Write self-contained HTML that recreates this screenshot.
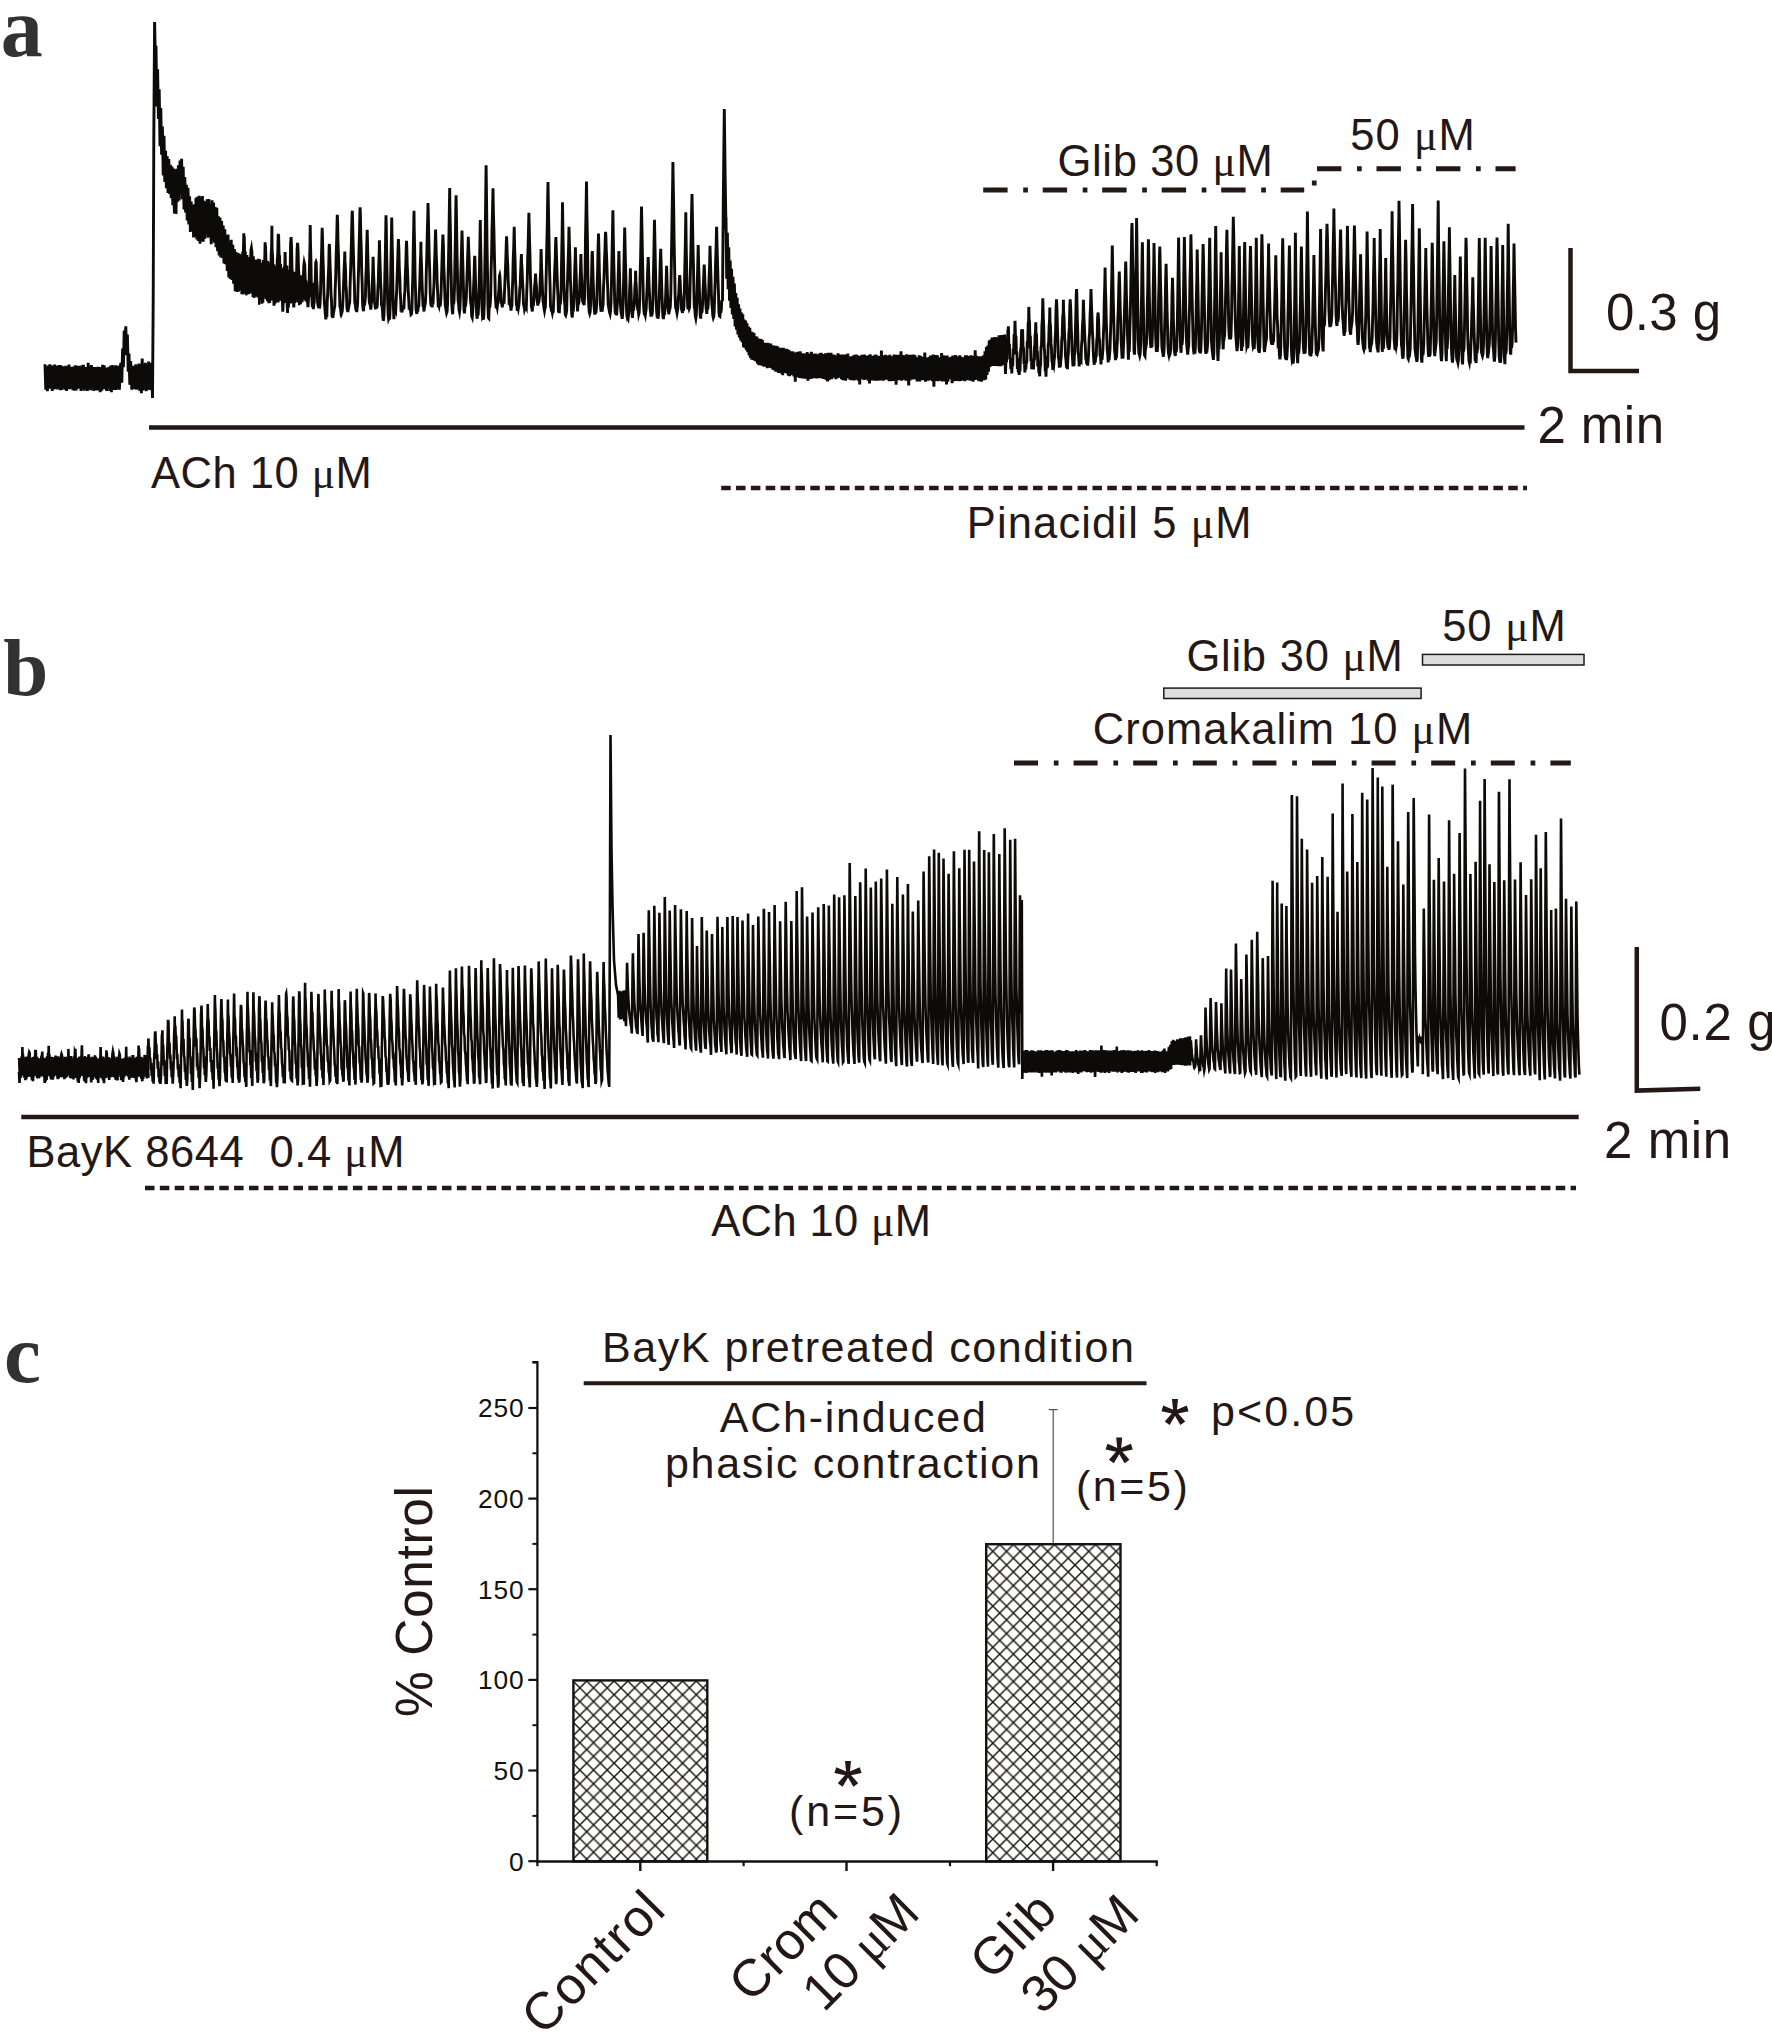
<!DOCTYPE html>
<html><head><meta charset="utf-8"><title>figure</title>
<style>
html,body{margin:0;padding:0;background:#fff;}
svg{display:block;}
text{font-family:"Liberation Sans",sans-serif;fill:#231815;}
.mu{font-family:"Liberation Serif",serif;}
.pl{font-family:"Liberation Serif",serif;font-weight:bold;fill:#323232;}
</style></head>
<body>
<svg width="1772" height="2039" viewBox="0 0 1772 2039">
<rect x="0" y="0" width="1772" height="2039" fill="#ffffff"/>
<polyline fill="none" stroke="#0d0b0a" stroke-width="2.9" stroke-linejoin="miter" stroke-miterlimit="6" points="45.0,364.2 45.8,389.7 46.6,367.0 47.4,391.1 48.2,365.5 49.0,388.6 49.8,364.3 50.6,388.3 51.4,365.4 52.2,390.9 53.0,367.0 53.8,389.4 54.6,364.5 55.4,388.7 56.2,365.6 57.0,389.5 57.8,365.6 58.6,388.5 59.4,365.1 60.2,390.2 61.0,365.3 61.8,389.9 62.6,366.4 63.4,388.3 64.2,366.5 65.0,389.7 65.8,365.8 66.6,391.0 67.4,366.4 68.2,388.9 69.0,364.5 69.8,389.2 70.6,367.2 71.4,388.5 72.2,366.9 73.0,390.1 73.8,366.6 74.6,390.6 75.4,365.4 76.2,390.5 77.0,365.8 77.8,388.6 78.6,365.8 79.4,388.3 80.2,366.9 81.0,390.9 81.8,365.3 82.6,388.6 83.4,364.9 84.2,390.8 85.0,367.0 85.8,389.2 86.6,367.0 87.4,391.0 88.2,362.7 89.0,389.2 89.8,367.4 90.6,390.3 91.4,365.0 92.2,389.3 93.0,367.0 93.8,390.9 94.6,367.0 95.4,390.2 96.2,367.3 97.0,390.4 97.8,366.9 98.6,390.5 99.4,367.1 100.2,392.2 101.0,367.1 101.8,390.8 102.6,364.8 103.4,388.9 104.2,365.2 105.0,389.2 105.8,367.8 106.6,391.0 107.4,367.6 108.2,388.7 109.0,366.7 109.8,390.9 110.6,365.7 111.4,392.3 112.2,365.1 113.0,389.7 113.8,366.5 114.6,390.0 115.4,365.4 116.2,389.9 117.0,365.6 117.8,388.5 118.6,366.1 119.4,389.6 120.2,366.5 121.0,362.8 121.8,382.8 122.6,348.5 123.4,367.1 124.2,330.6 125.0,343.6 125.8,326.3 126.6,355.1 127.4,334.6 128.2,371.6 129.0,353.5 129.8,384.6 130.6,361.2 131.0,366.7 131.8,389.7 132.6,365.9 133.4,389.3 134.2,366.1 135.0,388.9 135.8,364.4 136.6,389.6 137.4,365.9 138.2,389.0 139.0,363.5 139.8,390.9 140.6,364.7 141.4,393.2 142.2,358.6 143.0,390.5 143.8,364.6 144.6,389.3 145.4,362.8 146.2,391.3 147.0,365.1 147.8,389.9 148.6,361.6 149.4,389.8 150.2,362.7 151.0,390.2 151.8,364.4 152.5,398.0 153.2,300.0 153.8,140.0 154.6,22.0 155.4,60.0 156.0,90.0 156.0,45.8 156.8,106.5 157.6,69.3 158.4,119.1 159.2,89.3 160.0,146.3 160.8,108.1 161.6,154.8 162.4,126.5 163.2,175.5 164.0,135.8 164.8,181.9 165.6,150.9 166.4,188.2 167.2,156.3 168.0,192.9 168.8,159.1 169.6,194.0 170.4,164.7 171.2,198.1 172.0,166.5 172.8,205.3 173.6,168.5 174.4,213.5 175.2,169.8 176.0,213.9 176.8,168.8 177.6,201.9 178.4,165.3 179.2,200.5 180.0,160.5 180.8,194.0 181.6,158.7 182.4,199.3 183.2,166.8 184.0,209.4 184.8,177.0 185.6,212.5 186.4,184.8 187.2,220.4 188.0,187.9 188.8,224.5 189.6,196.2 190.4,231.9 191.2,201.5 192.0,231.4 192.8,205.3 193.6,237.4 194.4,204.4 195.2,236.8 196.0,197.7 196.8,239.4 197.6,196.9 198.4,241.0 199.2,195.8 200.0,243.7 200.8,197.4 201.6,240.9 202.4,196.1 203.2,241.7 204.0,200.9 204.8,238.9 205.6,202.4 206.4,234.2 207.2,199.3 208.0,237.7 208.8,199.0 209.6,236.3 210.4,204.2 211.2,244.2 212.0,200.4 212.8,240.6 213.6,202.6 214.4,242.7 215.2,207.1 216.0,247.2 216.8,207.8 217.6,251.1 218.4,216.3 219.2,255.5 220.0,217.5 220.8,257.4 221.6,221.1 222.4,258.0 223.2,225.5 224.0,263.5 224.8,229.2 225.6,264.2 226.4,235.8 227.2,270.9 228.0,234.5 228.8,277.4 229.6,242.0 230.4,278.9 231.2,239.7 232.0,279.9 232.8,244.8 233.6,283.8 234.4,249.0 235.2,291.3 236.0,252.8 236.8,287.9 237.6,252.7 238.4,291.8 239.2,253.5 240.0,267.3 240.5,287.3 240.9,272.5 241.4,285.2 241.9,260.6 242.4,276.9 242.8,251.4 243.3,257.4 243.8,233.3 244.0,243.2 244.3,236.2 244.7,257.8 245.2,251.6 245.7,271.4 246.2,263.4 246.6,282.0 247.1,269.6 247.6,284.7 248.1,284.9 248.5,294.2 249.0,285.6 249.5,292.7 250.0,267.8 250.4,276.4 250.9,250.3 251.4,248.0 251.9,252.1 252.3,271.2 252.8,265.7 253.3,290.2 253.8,278.9 254.3,293.9 254.7,279.6 255.2,288.3 255.7,276.5 256.1,291.7 256.6,276.2 257.1,279.7 257.6,268.9 258.0,277.9 258.5,270.0 259.0,282.5 259.5,273.9 259.9,290.9 260.4,278.2 260.9,287.8 261.4,291.1 261.8,303.6 262.3,288.0 262.8,302.7 263.2,279.8 263.7,289.9 264.1,265.5 264.6,268.4 265.1,242.2 265.3,251.8 265.5,245.4 266.0,263.6 266.5,263.7 266.9,288.8 267.4,283.8 267.9,299.0 268.3,287.1 268.8,303.2 269.3,292.3 269.7,302.7 270.2,284.7 270.7,284.6 271.2,253.9 271.6,248.3 271.9,225.7 272.1,249.9 272.6,256.2 273.1,283.8 273.6,289.7 274.0,305.7 274.5,288.6 275.0,296.9 275.4,287.7 275.9,296.9 276.4,276.7 276.8,279.3 277.3,259.5 277.7,255.5 278.2,233.9 278.4,241.0 278.6,234.8 279.1,256.6 279.6,256.6 280.0,279.4 280.5,278.9 280.9,297.8 281.4,291.2 281.9,298.5 282.3,299.5 282.8,311.6 283.2,302.5 283.7,302.2 284.2,284.0 284.6,277.4 285.1,252.1 285.6,275.6 286.0,281.8 286.5,299.2 287.0,300.5 287.5,313.0 287.9,298.6 288.4,307.6 288.8,299.1 289.3,297.5 289.7,276.3 290.2,270.0 290.6,243.3 291.1,237.0 291.5,246.2 292.0,268.8 292.4,276.8 292.9,296.3 293.4,299.6 293.8,307.5 294.3,295.4 294.7,302.9 295.2,294.9 295.7,293.7 296.2,277.1 296.6,272.2 297.1,249.6 297.6,242.8 298.1,250.9 298.5,268.7 299.0,274.8 299.5,294.1 300.0,298.8 300.5,304.1 300.9,295.2 301.4,301.8 301.9,295.7 302.3,295.8 302.8,282.4 303.3,278.7 303.8,265.7 304.2,262.5 304.7,264.5 305.2,279.4 305.7,281.1 306.1,295.8 306.6,296.5 307.1,301.6 307.6,302.4 308.0,307.1 308.5,298.4 309.0,290.8 309.5,263.7 310.0,245.2 310.2,225.1 310.5,243.6 311.0,264.0 311.4,288.8 311.9,298.4 312.4,307.2 312.9,304.7 313.4,309.1 313.8,304.3 314.3,301.5 314.8,285.0 315.3,279.5 315.7,262.7 316.0,261.9 316.2,262.5 316.7,279.8 317.2,286.9 317.6,302.5 318.1,305.7 318.6,308.0 319.1,303.1 319.5,308.5 320.0,304.6 320.5,292.7 321.0,269.2 321.5,256.0 322.0,233.8 322.2,227.8 322.4,233.7 322.9,255.8 323.4,269.8 323.9,292.3 324.4,302.6 324.9,308.7 325.3,313.6 325.8,319.4 326.3,314.9 326.8,317.2 327.2,302.7 327.7,293.0 328.2,277.1 328.7,267.7 329.1,247.2 329.4,244.0 329.6,247.5 330.1,266.1 330.5,275.3 331.0,294.7 331.5,300.7 332.0,315.1 332.4,315.0 332.9,317.9 333.4,308.6 333.9,310.7 334.3,308.2 334.8,306.3 335.2,289.1 335.7,276.5 336.2,255.0 336.6,242.2 337.1,221.0 337.3,214.7 337.6,220.7 338.0,241.7 338.5,255.5 339.0,277.0 339.4,289.1 339.9,306.8 340.4,307.7 340.8,311.3 341.3,309.6 341.8,312.5 342.2,311.2 342.7,305.3 343.2,293.6 343.6,283.2 344.1,269.6 344.6,259.2 344.8,251.5 345.0,260.9 345.5,268.5 345.9,284.9 346.4,291.3 346.9,307.4 347.3,309.7 347.8,311.9 348.3,306.0 348.7,307.1 349.2,304.3 349.7,302.7 350.1,285.1 350.6,270.8 351.1,252.5 351.5,238.9 352.0,215.8 352.3,210.7 352.5,216.8 353.0,239.1 353.4,252.9 353.9,271.0 354.4,285.1 354.8,302.5 355.3,304.7 355.8,308.6 356.2,308.4 356.7,312.0 357.2,307.6 357.6,303.4 358.1,285.2 358.5,271.5 359.0,250.1 359.4,235.2 359.9,212.6 360.1,207.3 360.4,214.7 360.8,236.1 361.3,250.3 361.7,271.9 362.2,283.9 362.6,304.0 363.1,309.0 363.6,311.1 364.0,302.2 364.5,305.7 364.9,302.4 365.4,297.4 365.8,278.9 366.3,266.4 366.7,246.3 367.2,229.8 367.6,246.6 368.1,266.0 368.5,279.4 369.0,295.9 369.4,302.7 369.9,304.2 370.3,305.8 370.8,309.5 371.3,303.8 371.7,300.9 372.2,285.4 372.7,274.1 373.1,256.8 373.6,274.6 374.1,284.6 374.5,301.9 375.0,305.1 375.5,309.2 375.9,305.4 376.4,307.6 376.9,307.3 377.3,304.8 377.8,290.7 378.3,281.4 378.7,266.5 379.2,252.6 379.4,240.3 379.7,252.1 380.1,264.1 380.6,282.1 381.1,290.6 381.5,304.9 382.0,305.9 382.5,310.6 382.9,317.7 383.4,320.8 383.9,316.2 384.4,302.9 384.8,278.1 385.3,256.7 385.8,226.6 386.0,215.4 386.3,227.2 386.7,257.0 387.2,279.2 387.7,302.4 388.2,315.6 388.6,319.0 389.1,317.7 389.6,319.5 390.1,308.7 390.5,287.8 391.0,257.7 391.5,233.5 391.7,217.6 392.0,234.9 392.5,257.7 392.9,288.1 393.4,307.4 393.9,319.2 394.4,310.2 394.8,313.2 395.3,309.7 395.7,310.7 396.2,300.4 396.6,292.7 397.1,278.0 397.5,267.1 398.0,250.1 398.4,239.1 398.9,249.9 399.3,268.9 399.8,278.1 400.2,291.9 400.7,300.1 401.1,311.7 401.6,307.9 402.0,312.5 402.5,305.2 403.0,310.0 403.4,306.3 403.9,309.0 404.4,296.4 404.9,291.2 405.3,276.0 405.8,264.0 406.3,245.9 406.5,240.7 406.8,247.5 407.2,263.6 407.7,275.3 408.2,290.5 408.7,298.6 409.1,307.5 409.6,307.2 410.1,309.3 410.6,311.1 411.0,314.5 411.5,314.0 411.9,309.8 412.4,290.5 412.8,275.9 413.3,248.5 413.7,227.4 414.0,210.7 414.2,227.7 414.7,251.1 415.1,276.5 415.6,292.6 416.0,309.2 416.5,312.4 416.9,313.9 417.4,306.6 417.8,311.5 418.3,306.1 418.8,306.0 419.3,292.8 419.7,284.2 420.2,266.5 420.7,253.6 420.9,241.8 421.1,254.2 421.6,267.7 422.1,284.5 422.5,293.7 423.0,305.7 423.5,306.4 424.0,311.5 424.4,302.8 424.9,305.2 425.4,302.5 425.9,293.2 426.3,272.0 426.8,254.8 427.3,232.5 427.8,215.1 428.0,203.1 428.3,214.4 428.7,233.4 429.2,256.1 429.7,270.6 430.2,292.3 430.7,302.8 431.1,306.1 431.6,302.7 432.1,307.3 432.6,302.2 433.0,304.4 433.5,293.0 434.0,283.7 434.4,267.4 434.9,253.9 435.4,234.8 435.6,229.6 435.8,236.9 436.3,255.5 436.8,267.2 437.2,283.1 437.7,293.1 438.2,304.5 438.6,304.1 439.1,306.0 439.6,302.9 440.1,306.3 440.5,303.5 441.0,295.2 441.5,277.6 441.9,264.7 442.4,248.0 442.9,234.6 443.4,246.4 443.8,266.6 444.3,277.5 444.8,293.9 445.2,304.7 445.7,307.7 446.2,310.7 446.6,313.1 447.1,311.7 447.6,302.7 448.0,280.4 448.5,259.9 449.0,231.9 449.4,207.0 449.7,187.9 449.9,206.5 450.4,230.0 450.8,259.7 451.3,280.3 451.7,302.5 452.2,310.1 452.7,314.2 453.1,301.9 453.6,304.7 454.0,300.9 454.5,287.6 454.9,262.6 455.4,237.6 455.8,208.5 456.1,195.3 456.3,207.2 456.8,239.5 457.2,262.2 457.7,287.9 458.1,300.5 458.6,303.9 459.0,309.9 459.5,312.2 459.9,309.0 460.4,296.0 460.8,274.1 461.3,257.9 461.8,238.2 462.0,230.6 462.2,238.3 462.7,259.7 463.1,273.8 463.6,294.1 464.0,310.2 464.5,313.3 465.0,304.2 465.4,306.6 465.9,302.6 466.3,297.2 466.8,282.5 467.2,271.4 467.7,255.8 468.1,244.6 468.3,236.9 468.6,245.6 469.0,256.1 469.5,272.2 469.9,281.7 470.4,298.6 470.8,303.4 471.3,306.2 471.7,316.2 472.2,317.5 472.6,313.2 473.1,305.6 473.5,288.5 474.0,277.5 474.5,260.4 474.7,255.8 474.9,259.2 475.4,277.7 475.8,287.9 476.3,304.6 476.7,315.4 477.2,318.7 477.6,313.5 478.1,315.3 478.6,306.5 479.1,289.5 479.6,261.5 480.0,237.2 480.3,220.1 480.5,237.8 481.0,261.5 481.5,289.3 482.0,307.5 482.5,316.7 482.9,315.9 483.4,319.7 483.8,315.6 484.3,303.0 484.7,274.4 485.2,243.3 485.6,203.4 486.1,165.3 486.6,203.4 487.0,242.7 487.5,273.0 487.9,304.2 488.4,317.8 488.8,318.3 489.3,303.0 489.7,307.7 490.2,304.2 490.7,294.9 491.1,271.1 491.6,254.8 492.0,229.8 492.5,211.9 493.0,188.3 493.4,212.4 493.9,230.0 494.4,254.5 494.8,271.5 495.3,296.2 495.8,303.5 496.2,308.3 496.7,305.0 497.2,307.3 497.6,304.1 498.1,302.8 498.6,293.0 499.0,288.0 499.5,275.9 499.7,275.2 499.9,276.5 500.4,287.1 500.9,293.4 501.3,302.3 501.8,304.1 502.3,307.4 502.7,302.4 503.2,302.8 503.6,301.7 504.1,301.9 504.6,289.9 505.0,280.5 505.5,267.8 505.9,256.1 506.4,239.9 506.6,236.4 506.8,241.3 507.3,256.8 507.8,266.3 508.2,280.5 508.7,289.7 509.1,301.6 509.6,300.9 510.0,302.8 510.5,305.7 511.0,310.6 511.4,307.1 511.9,306.1 512.3,290.8 512.8,277.7 513.2,259.3 513.7,248.0 514.2,226.8 514.6,247.2 515.1,260.7 515.5,279.6 516.0,289.9 516.4,304.6 516.9,306.0 517.3,310.9 517.8,306.2 518.3,308.5 518.8,305.5 519.2,301.7 519.7,290.4 520.2,284.4 520.7,270.2 521.1,260.5 521.4,254.1 521.6,262.8 522.1,270.0 522.6,283.2 523.0,289.2 523.5,303.9 524.0,306.1 524.5,309.6 525.0,308.0 525.4,310.7 525.9,306.7 526.3,307.6 526.8,290.6 527.3,278.1 527.7,258.0 528.2,243.0 528.7,220.5 528.9,212.8 529.1,221.0 529.6,242.2 530.0,256.7 530.5,279.3 531.0,292.1 531.4,307.0 531.9,307.9 532.3,311.5 532.8,302.6 533.3,306.2 533.7,302.2 534.2,296.5 534.6,286.0 535.1,282.0 535.5,273.5 536.0,282.8 536.4,285.8 536.9,296.5 537.3,301.3 537.8,305.6 538.3,300.5 538.7,303.2 539.2,299.2 539.7,295.3 540.2,280.1 540.7,269.4 541.1,249.0 541.6,267.9 542.1,279.0 542.6,293.4 543.0,300.9 543.5,303.7 544.0,308.2 544.5,310.9 544.9,308.5 545.4,307.2 545.9,286.7 546.3,270.9 546.8,245.6 547.3,223.8 547.7,195.8 548.0,182.1 548.2,195.2 548.7,223.0 549.1,245.1 549.6,271.0 550.1,286.8 550.5,306.4 551.0,307.5 551.4,310.5 551.9,310.6 552.4,313.0 552.8,311.0 553.3,311.1 553.8,296.6 554.2,286.6 554.7,269.5 555.2,260.2 555.6,243.0 555.9,237.1 556.1,242.5 556.6,259.5 557.0,272.0 557.5,286.7 558.0,296.7 558.4,310.9 558.9,310.9 559.3,313.1 559.8,301.6 560.3,304.7 560.7,299.9 561.2,285.7 561.6,260.4 562.1,235.1 562.5,202.2 563.0,235.8 563.5,260.6 563.9,286.6 564.4,300.3 564.8,304.1 565.3,314.7 565.7,315.4 566.2,313.5 566.7,310.3 567.1,291.1 567.6,278.8 568.1,262.1 568.6,247.1 569.0,226.8 569.5,247.3 570.0,261.2 570.4,279.1 570.9,291.0 571.4,308.1 571.8,314.9 572.3,317.5 572.8,309.1 573.3,311.8 573.7,303.8 574.2,289.5 574.7,270.9 575.2,258.8 575.4,247.3 575.7,259.7 576.1,271.5 576.6,290.0 577.1,303.7 577.6,311.4 578.1,301.3 578.5,304.5 579.0,301.3 579.5,295.5 579.9,282.0 580.4,272.6 580.9,254.0 581.3,271.6 581.8,280.8 582.3,296.8 582.7,301.7 583.2,302.8 583.7,301.9 584.1,305.1 584.6,296.9 585.1,271.1 585.5,237.8 586.0,212.5 586.5,181.5 586.9,212.5 587.4,238.6 587.8,270.2 588.3,296.6 588.8,305.7 589.2,311.9 589.7,313.6 590.2,311.7 590.6,304.0 591.1,287.7 591.6,275.9 592.0,255.5 592.3,251.0 592.5,256.3 593.0,275.1 593.4,287.7 593.9,304.1 594.4,310.1 594.8,314.7 595.3,309.1 595.8,313.3 596.2,310.5 596.7,303.4 597.1,287.8 597.6,271.8 598.0,252.0 598.5,233.6 599.0,252.4 599.4,273.6 599.9,285.8 600.3,303.5 600.8,309.2 601.2,311.7 601.7,307.4 602.2,311.5 602.6,306.9 603.1,305.1 603.5,287.9 604.0,277.5 604.5,261.2 604.9,251.3 605.4,234.3 605.6,231.8 605.9,236.6 606.3,250.4 606.8,261.6 607.3,278.6 607.7,288.0 608.2,304.6 608.7,307.3 609.1,310.1 609.6,312.3 610.1,314.0 610.5,311.2 611.0,302.1 611.5,281.5 611.9,262.0 612.4,236.5 612.9,210.2 613.3,236.0 613.8,263.3 614.3,281.3 614.7,302.2 615.2,312.2 615.6,314.3 616.1,310.7 616.6,315.4 617.0,309.3 617.5,300.7 618.0,284.1 618.4,270.1 618.9,251.1 619.4,271.0 619.8,284.7 620.3,302.1 620.8,309.4 621.2,313.2 621.7,315.7 622.2,318.9 622.6,315.4 623.1,303.4 623.6,281.3 624.0,262.0 624.5,237.1 624.7,227.5 624.9,236.2 625.4,261.0 625.9,278.9 626.3,302.2 626.8,315.4 627.3,317.7 627.7,316.8 628.2,318.1 628.7,313.4 629.2,306.5 629.6,290.9 630.1,279.8 630.4,268.3 630.6,279.9 631.1,291.5 631.5,306.5 632.0,313.7 632.5,317.9 633.0,307.6 633.5,310.5 633.9,306.2 634.4,300.7 634.9,287.5 635.4,280.8 635.6,270.9 635.9,280.4 636.4,289.0 636.8,300.7 637.3,306.5 637.8,309.9 638.3,310.8 638.7,314.4 639.2,312.5 639.7,300.3 640.1,277.1 640.6,258.4 641.1,230.2 641.5,206.6 642.0,230.9 642.5,258.0 642.9,277.8 643.4,301.2 643.9,311.0 644.3,313.5 644.8,313.3 645.3,315.2 645.7,312.2 646.2,308.9 646.7,295.7 647.2,285.7 647.7,270.0 648.2,257.1 648.6,268.7 649.1,286.6 649.6,295.8 650.1,308.5 650.6,312.9 651.0,316.6 651.5,313.8 652.0,314.1 652.4,312.2 652.9,298.6 653.4,275.6 653.8,257.3 654.3,229.3 654.5,219.7 654.7,230.5 655.2,256.0 655.6,275.4 656.1,298.8 656.6,311.5 657.0,315.3 657.5,314.9 657.9,318.6 658.4,316.3 658.8,311.1 659.3,295.3 659.7,282.1 660.2,262.3 660.7,248.8 661.1,262.8 661.6,282.5 662.0,295.3 662.5,309.5 662.9,316.4 663.4,319.1 663.8,312.4 664.3,315.2 664.7,312.0 665.2,306.4 665.7,294.5 666.1,283.0 666.6,265.7 667.1,283.6 667.5,294.8 668.0,306.9 668.4,311.0 668.9,314.2 669.4,307.3 669.8,309.0 670.3,307.0 670.8,293.7 671.3,265.9 671.7,240.1 672.2,209.1 672.7,180.1 672.9,162.1 673.2,180.0 673.7,209.1 674.1,240.6 674.6,266.1 675.1,295.2 675.6,307.7 676.0,308.5 676.5,310.5 677.0,313.2 677.4,310.8 677.9,308.1 678.4,297.1 678.8,293.6 679.3,281.4 679.7,275.1 680.2,281.4 680.6,292.5 681.1,297.0 681.5,309.0 682.0,310.7 682.5,312.8 682.9,308.4 683.4,310.9 683.9,306.8 684.3,293.8 684.8,268.2 685.3,245.5 685.8,212.3 686.2,245.3 686.7,270.1 687.2,292.8 687.7,306.5 688.1,309.4 688.6,306.6 689.1,308.7 689.6,307.2 690.0,289.6 690.5,266.0 691.0,243.9 691.5,215.8 692.0,194.0 692.4,215.3 692.9,244.0 693.4,263.7 693.9,290.6 694.3,306.8 694.8,308.9 695.3,316.1 695.8,318.4 696.3,314.9 696.8,302.9 697.3,282.6 697.7,267.6 698.2,245.1 698.7,267.4 699.2,281.5 699.7,301.7 700.2,315.0 700.7,318.6 701.1,309.7 701.6,312.3 702.1,311.7 702.5,304.8 703.0,291.9 703.5,282.2 704.0,268.4 704.2,264.5 704.4,267.9 704.9,282.0 705.4,291.1 705.8,304.2 706.3,309.7 706.8,313.9 707.2,306.8 707.7,309.7 708.2,303.9 708.6,294.5 709.1,277.5 709.6,264.8 710.0,245.9 710.5,263.2 711.0,278.4 711.4,294.8 711.9,304.2 712.4,309.6 712.8,315.5 713.3,317.7 713.8,316.2 714.2,311.2 714.7,294.2 715.2,279.9 715.6,262.1 716.1,247.3 716.6,226.9 717.1,247.2 717.5,261.8 718.0,279.8 718.5,294.5 718.9,311.4 719.4,315.9 719.9,316.3 720.4,310.3 720.8,312.8 721.3,309.8 721.7,301.3 722.5,300.0 723.3,200.0 724.3,109.0 725.2,180.0 726.0,230.0 726.0,217.0 726.7,278.7 727.4,232.8 728.1,289.3 728.8,247.3 729.5,300.7 730.2,260.5 730.9,308.1 731.6,268.7 732.3,314.4 733.0,276.8 733.7,319.1 734.4,283.4 735.1,326.4 735.8,293.0 736.5,329.8 737.2,297.8 737.9,334.5 738.6,304.4 739.3,337.5 740.0,308.5 740.7,340.5 741.4,312.6 742.1,342.2 742.8,314.4 743.5,347.3 744.2,319.6 744.9,348.0 745.6,320.5 746.3,350.2 747.0,323.3 747.7,352.1 748.4,326.5 749.1,355.4 749.8,327.8 750.5,357.9 751.2,331.6 751.9,359.8 752.6,332.2 753.3,359.9 754.0,333.1 754.7,360.6 755.4,336.3 756.1,361.5 756.8,336.5 757.5,363.8 758.2,338.6 758.9,365.1 759.6,338.7 760.3,364.5 761.0,339.0 761.7,365.5 762.4,340.1 763.1,366.2 763.8,342.7 764.5,366.8 765.2,342.8 765.9,366.4 766.6,342.8 767.3,368.2 768.0,342.7 768.7,367.2 769.4,345.3 770.1,367.8 770.8,343.5 771.5,368.3 772.2,345.2 772.9,369.8 773.6,345.5 774.3,370.2 775.0,347.4 775.7,371.8 776.4,345.7 777.1,370.9 777.8,346.5 778.5,372.9 779.2,348.3 779.9,372.4 780.6,347.7 781.3,373.4 782.0,348.2 782.7,375.2 783.4,347.7 784.1,373.0 784.8,349.5 785.5,372.8 786.2,348.9 786.9,373.4 787.6,349.4 788.3,375.7 789.0,350.1 789.7,376.1 790.4,351.7 791.1,375.0 791.8,351.4 792.5,374.6 793.2,351.5 793.9,376.5 794.6,352.5 795.3,381.8 796.0,352.5 796.7,376.7 797.4,351.7 798.1,377.1 798.8,351.7 799.5,378.0 800.2,351.4 800.9,376.3 801.6,353.3 802.3,378.4 803.0,353.2 803.7,377.6 804.4,353.5 805.1,378.8 805.8,353.8 806.5,377.7 807.2,352.1 807.9,380.6 808.6,354.1 809.3,379.3 810.0,353.6 810.7,378.4 811.4,351.9 812.1,378.8 812.8,353.7 813.5,377.3 814.2,353.8 814.9,377.9 815.6,353.5 816.3,378.4 817.0,355.0 817.7,377.2 818.4,354.4 819.1,378.3 819.8,353.4 820.5,377.3 821.2,352.9 821.9,378.1 822.6,354.7 823.3,378.9 824.0,354.0 824.7,377.4 825.4,353.4 826.1,379.9 826.8,354.9 827.5,381.4 828.2,352.9 828.9,380.1 829.6,355.4 830.3,379.2 831.0,352.7 831.7,379.2 832.4,354.7 833.1,377.5 833.8,354.5 834.5,377.6 835.2,355.4 835.9,379.3 836.6,355.5 837.3,378.2 838.0,353.3 838.7,377.6 839.4,354.5 840.1,377.8 840.8,355.4 841.5,379.3 842.2,354.6 842.9,380.1 843.6,355.7 844.3,378.3 845.0,354.6 845.7,380.8 846.4,355.6 847.1,378.0 847.8,353.6 848.5,378.5 849.2,356.5 849.9,379.7 850.6,356.4 851.3,380.3 852.0,356.5 852.7,380.2 853.4,355.5 854.1,380.5 854.8,354.8 855.5,379.7 856.2,354.5 856.9,378.1 857.6,355.3 858.3,380.6 859.0,356.2 859.7,384.4 860.4,356.1 861.1,379.1 861.8,354.9 862.5,378.2 863.2,355.6 863.9,380.0 864.6,354.6 865.3,379.5 866.0,356.8 866.7,379.3 867.4,355.8 868.1,380.7 868.8,355.4 869.5,383.4 870.2,354.4 870.9,378.8 871.6,356.3 872.3,380.4 873.0,355.7 873.7,378.3 874.4,355.3 875.1,380.8 875.8,354.5 876.5,378.9 877.2,355.6 877.9,380.8 878.6,356.0 879.3,379.3 880.0,356.4 880.7,380.4 881.4,350.5 882.1,380.1 882.8,355.2 883.5,380.6 884.2,356.5 884.9,378.5 885.6,354.7 886.3,379.8 887.0,355.5 887.7,378.9 888.4,356.8 889.1,381.3 889.8,354.7 890.5,381.2 891.2,356.3 891.9,378.5 892.6,357.2 893.3,380.9 894.0,354.5 894.7,380.6 895.4,354.7 896.1,384.6 896.8,356.1 897.5,380.3 898.2,354.8 898.9,379.7 899.6,355.3 900.3,380.3 901.0,351.2 901.7,380.7 902.4,355.1 903.1,379.5 903.8,355.4 904.5,379.7 905.2,356.7 905.9,380.6 906.6,354.4 907.3,380.2 908.0,354.9 908.7,385.5 909.4,356.0 910.1,380.5 910.8,354.7 911.5,379.2 912.2,356.0 912.9,379.4 913.6,354.5 914.3,378.5 915.0,355.2 915.7,379.1 916.4,357.4 917.1,381.5 917.8,357.5 918.5,378.7 919.2,355.3 919.9,381.4 920.6,356.0 921.3,379.7 922.0,357.2 922.7,380.0 923.4,356.7 924.1,380.2 924.8,352.5 925.5,381.6 926.2,357.5 926.9,380.3 927.6,357.6 928.3,380.7 929.0,357.0 929.7,380.2 930.4,355.5 931.1,380.1 931.8,357.0 932.5,381.2 933.2,354.6 933.9,386.8 934.6,355.7 935.3,380.2 936.0,355.1 936.7,380.9 937.4,355.4 938.1,381.1 938.8,357.3 939.5,379.3 940.2,357.2 940.9,380.8 941.6,353.1 942.3,381.5 943.0,355.4 943.7,379.0 944.4,355.6 945.1,381.5 945.8,356.2 946.5,384.4 947.2,355.6 947.9,381.7 948.6,357.2 949.3,379.2 950.0,357.3 950.7,378.8 951.4,356.8 952.1,383.2 952.8,355.5 953.5,381.2 954.2,356.8 954.9,379.8 955.6,355.1 956.3,381.0 957.0,356.3 957.7,381.0 958.4,356.7 959.1,381.2 959.8,355.2 960.5,380.9 961.2,356.8 961.9,380.5 962.6,357.3 963.3,379.9 964.0,357.6 964.7,381.3 965.4,355.2 966.1,379.3 966.8,355.3 967.5,380.2 968.2,356.0 968.9,379.2 969.6,356.4 970.3,380.6 971.0,355.4 971.7,380.0 972.4,355.8 973.1,381.7 973.8,357.3 974.5,379.9 975.2,350.3 975.9,379.3 976.6,355.9 977.3,379.7 978.0,357.4 978.7,381.3 979.4,356.2 980.1,379.2 980.8,357.2 981.5,381.6 982.2,356.2 982.9,379.6 983.6,355.4 984.3,380.3 985.0,351.4 985.7,379.5 986.4,347.1 987.1,375.0 987.8,345.6 988.5,371.7 989.2,340.5 989.9,367.0 990.6,339.9 991.3,364.9 992.0,337.6 992.7,366.0 993.4,337.9 994.1,365.7 994.8,337.0 995.5,366.0 996.2,337.2 996.9,365.8 997.6,338.5 998.3,366.2 999.0,335.2 999.7,364.8 1000.4,336.2 1001.1,366.3 1001.8,335.1 1002.5,364.9 1003.2,336.2 1003.9,364.1 1004.6,334.6 1005.0,359.3 1005.5,374.0 1006.0,357.6 1006.5,362.5 1006.9,344.8 1007.4,345.1 1007.9,329.7 1008.1,332.0 1008.4,326.4 1008.9,349.3 1009.4,343.9 1009.8,359.7 1010.3,357.8 1010.8,368.9 1011.3,360.2 1011.8,373.5 1012.2,361.5 1012.7,366.5 1013.2,348.7 1013.6,354.5 1014.1,334.2 1014.6,340.0 1015.0,320.7 1015.5,337.5 1016.0,335.8 1016.4,354.3 1016.9,351.5 1017.4,369.0 1017.8,359.5 1018.3,372.4 1018.8,363.7 1019.2,374.9 1019.7,364.0 1020.2,365.2 1020.7,349.1 1021.1,347.7 1021.6,329.6 1022.1,332.0 1022.6,329.2 1023.0,346.7 1023.5,348.0 1024.0,364.2 1024.4,361.5 1024.9,372.4 1025.4,362.2 1025.8,369.5 1026.3,362.1 1026.8,362.0 1027.2,342.2 1027.7,341.7 1028.2,322.6 1028.6,321.1 1028.8,306.9 1029.1,319.1 1029.5,321.6 1030.0,342.7 1030.5,341.6 1030.9,361.1 1031.4,358.7 1031.8,369.3 1032.3,362.6 1032.8,369.5 1033.2,363.8 1033.7,364.7 1034.2,352.6 1034.6,353.6 1035.1,334.8 1035.5,332.0 1035.8,322.2 1036.0,333.0 1036.5,334.5 1036.9,349.4 1037.4,352.5 1037.8,366.5 1038.3,360.5 1038.8,370.7 1039.2,370.5 1039.7,376.3 1040.1,367.1 1040.6,365.6 1041.0,347.5 1041.5,345.2 1041.9,325.9 1042.4,318.2 1042.8,298.2 1043.3,316.7 1043.7,325.8 1044.2,347.8 1044.6,351.0 1045.1,366.5 1045.5,365.8 1046.0,376.8 1046.4,361.9 1046.9,368.3 1047.3,361.3 1047.8,362.3 1048.2,345.5 1048.7,341.7 1049.1,326.6 1049.6,318.8 1049.8,307.5 1050.0,321.4 1050.5,325.8 1051.0,343.9 1051.4,347.4 1051.9,360.9 1052.3,361.9 1052.8,370.0 1053.2,363.7 1053.7,365.5 1054.2,359.8 1054.6,356.4 1055.1,339.6 1055.6,331.2 1056.0,310.9 1056.5,299.3 1057.0,310.0 1057.5,331.3 1057.9,341.3 1058.4,357.9 1058.9,359.5 1059.4,367.7 1059.8,362.6 1060.3,367.1 1060.8,360.6 1061.3,355.7 1061.7,341.1 1062.2,335.4 1062.7,317.2 1063.2,312.4 1063.4,299.7 1063.6,311.1 1064.1,318.9 1064.6,337.5 1065.1,343.0 1065.5,356.1 1066.0,360.3 1066.5,367.7 1067.0,362.8 1067.4,369.1 1067.9,358.1 1068.4,352.1 1068.8,334.9 1069.3,327.9 1069.8,307.5 1070.2,299.4 1070.7,308.2 1071.2,326.8 1071.6,335.8 1072.1,351.1 1072.6,360.3 1073.0,366.4 1073.5,360.3 1074.0,366.0 1074.4,355.3 1074.9,351.8 1075.4,330.7 1075.8,316.1 1076.3,293.3 1076.6,289.0 1076.8,293.8 1077.3,318.0 1077.7,330.9 1078.2,352.1 1078.7,357.7 1079.2,366.5 1079.6,357.9 1080.1,364.2 1080.6,358.4 1081.1,359.5 1081.5,345.9 1082.0,339.9 1082.5,325.3 1083.0,318.3 1083.4,299.8 1083.9,316.5 1084.4,326.9 1084.9,339.8 1085.3,346.1 1085.8,358.9 1086.3,360.4 1086.8,364.2 1087.2,360.2 1087.7,365.6 1088.2,359.6 1088.6,353.8 1089.1,338.5 1089.6,333.2 1090.1,315.2 1090.5,307.0 1091.0,289.1 1091.5,306.4 1091.9,315.2 1092.4,331.1 1092.9,340.0 1093.3,351.9 1093.8,360.6 1094.3,364.7 1094.7,356.2 1095.2,362.7 1095.7,357.2 1096.2,356.4 1096.7,341.6 1097.2,336.2 1097.6,317.8 1098.1,312.5 1098.6,320.4 1099.1,337.7 1099.6,340.7 1100.0,355.1 1100.5,356.2 1101.0,364.4 1101.5,355.2 1102.0,360.0 1102.4,355.3 1102.9,349.6 1103.4,334.4 1103.9,323.2 1104.3,299.1 1104.8,284.4 1105.1,267.5 1105.3,284.6 1105.8,299.2 1106.3,322.0 1106.7,332.8 1107.2,349.3 1107.7,354.1 1108.2,362.4 1108.6,356.2 1109.1,360.1 1109.6,353.9 1110.0,349.1 1110.5,333.2 1110.9,320.7 1111.4,294.8 1111.8,277.4 1112.3,245.6 1112.8,275.1 1113.2,296.6 1113.7,317.7 1114.1,333.8 1114.6,350.7 1115.0,353.5 1115.5,360.2 1116.0,354.0 1116.4,358.2 1116.9,349.4 1117.4,339.9 1117.8,320.5 1118.3,308.6 1118.8,287.0 1119.3,271.6 1119.7,284.2 1120.2,308.7 1120.7,321.1 1121.1,339.6 1121.6,348.6 1122.1,358.6 1122.6,352.8 1123.0,358.5 1123.5,345.6 1124.0,333.7 1124.5,310.3 1125.0,292.9 1125.5,269.7 1125.7,261.5 1125.9,267.3 1126.4,295.1 1126.9,309.3 1127.4,332.2 1127.9,345.2 1128.4,359.8 1128.8,344.9 1129.3,351.6 1129.8,331.2 1130.3,314.5 1130.8,286.2 1131.2,262.2 1131.7,231.2 1132.0,223.0 1132.2,231.4 1132.7,264.2 1133.2,282.6 1133.6,315.5 1134.0,351.1 1134.5,354.6 1135.0,338.8 1135.4,310.8 1135.9,273.6 1136.4,240.1 1136.6,217.9 1136.9,239.3 1137.3,272.5 1137.8,310.3 1138.3,340.0 1138.8,352.9 1139.2,354.0 1139.7,355.9 1140.2,353.5 1140.7,343.0 1141.2,316.8 1141.6,293.7 1142.1,255.7 1142.4,242.2 1142.6,257.8 1143.1,292.4 1143.6,318.5 1144.0,343.5 1144.5,355.0 1145.0,355.9 1145.5,345.9 1145.9,346.9 1146.4,344.0 1146.9,334.0 1147.3,307.3 1147.8,284.8 1148.2,252.4 1148.4,239.3 1148.7,252.1 1149.1,284.8 1149.6,309.1 1150.0,332.2 1150.5,343.1 1150.9,348.0 1151.4,345.1 1151.9,347.1 1152.3,336.7 1152.8,316.0 1153.3,285.0 1153.8,260.6 1154.0,243.1 1154.3,259.9 1154.8,283.3 1155.2,315.6 1155.7,337.9 1156.2,348.8 1156.7,348.2 1157.2,351.8 1157.7,345.9 1158.1,329.7 1158.6,299.6 1159.1,282.4 1159.5,255.0 1159.8,246.5 1160.0,253.7 1160.5,282.4 1161.0,300.8 1161.4,329.5 1161.9,346.6 1162.4,351.0 1162.9,353.4 1163.3,356.8 1163.8,353.1 1164.2,346.8 1164.7,323.3 1165.2,307.2 1165.6,282.5 1166.1,263.7 1166.5,282.7 1167.0,307.2 1167.5,326.2 1167.9,344.5 1168.4,352.8 1168.8,354.7 1169.3,351.6 1169.7,354.9 1170.2,353.7 1170.7,349.2 1171.1,332.5 1171.6,320.4 1172.0,296.6 1172.5,277.9 1173.0,297.7 1173.4,320.1 1173.9,333.3 1174.3,349.3 1174.8,353.7 1175.3,356.0 1175.7,349.3 1176.2,352.0 1176.7,347.8 1177.2,330.6 1177.7,301.3 1178.1,274.2 1178.6,237.4 1179.1,275.3 1179.6,301.4 1180.1,329.0 1180.6,347.6 1181.1,352.8 1181.5,340.9 1182.0,344.8 1182.5,339.9 1183.0,319.8 1183.5,293.1 1183.9,268.7 1184.4,237.0 1184.9,268.3 1185.4,292.4 1185.9,320.2 1186.3,336.9 1186.8,345.5 1187.3,350.7 1187.7,354.5 1188.2,349.2 1188.7,345.0 1189.1,322.1 1189.6,304.7 1190.0,279.3 1190.5,261.5 1190.9,234.4 1191.4,259.9 1191.8,281.0 1192.3,306.7 1192.7,323.5 1193.2,346.6 1193.6,351.0 1194.1,354.2 1194.5,349.3 1195.0,353.5 1195.4,345.2 1195.9,327.0 1196.3,301.7 1196.8,279.5 1197.2,249.5 1197.7,278.2 1198.1,298.8 1198.6,327.1 1199.0,347.3 1199.5,352.3 1199.9,350.2 1200.4,353.2 1200.8,350.2 1201.3,337.2 1201.8,312.3 1202.2,291.7 1202.7,265.2 1203.1,244.0 1203.6,263.2 1204.1,291.4 1204.5,311.2 1205.0,338.1 1205.5,351.1 1205.9,353.8 1206.4,346.8 1206.8,352.6 1207.3,347.7 1207.8,341.2 1208.2,319.1 1208.7,296.7 1209.2,265.8 1209.7,237.8 1210.1,265.9 1210.6,295.8 1211.1,318.8 1211.5,341.1 1212.0,348.4 1212.5,352.5 1212.9,356.4 1213.4,359.9 1213.9,351.8 1214.3,325.1 1214.8,291.2 1215.2,262.6 1215.7,226.1 1216.2,262.0 1216.6,289.8 1217.1,326.3 1217.6,352.1 1218.0,360.9 1218.5,346.6 1219.0,349.5 1219.4,340.0 1219.9,321.4 1220.4,293.4 1220.9,269.1 1221.1,252.3 1221.3,270.9 1221.8,293.0 1222.3,322.3 1222.7,340.5 1223.2,349.3 1223.7,336.5 1224.1,338.4 1224.6,335.5 1225.0,323.8 1225.5,300.1 1226.0,281.4 1226.4,251.7 1226.9,229.9 1227.3,251.8 1227.8,279.4 1228.3,301.1 1228.7,325.2 1229.2,336.1 1229.6,339.4 1230.1,333.7 1230.5,339.3 1231.0,336.0 1231.5,317.5 1231.9,290.3 1232.4,268.7 1232.9,239.8 1233.3,216.9 1233.8,239.1 1234.3,268.0 1234.7,289.6 1235.2,317.0 1235.7,333.5 1236.1,339.1 1236.6,346.2 1237.0,351.2 1237.5,346.9 1238.0,334.2 1238.4,308.9 1238.9,282.0 1239.3,245.9 1239.8,283.0 1240.3,307.8 1240.7,334.0 1241.2,346.5 1241.6,350.8 1242.1,342.7 1242.6,346.8 1243.0,336.3 1243.5,313.5 1244.0,284.5 1244.4,257.7 1244.7,242.0 1244.9,258.2 1245.4,284.5 1245.8,314.9 1246.3,336.0 1246.8,346.3 1247.2,345.0 1247.7,348.1 1248.2,343.4 1248.6,331.9 1249.1,310.0 1249.5,292.8 1250.0,265.6 1250.5,246.1 1250.9,265.1 1251.4,291.8 1251.8,309.2 1252.3,333.5 1252.8,343.7 1253.2,346.8 1253.7,345.5 1254.2,348.8 1254.6,342.2 1255.1,323.0 1255.6,291.4 1256.0,259.7 1256.3,237.8 1256.5,258.9 1257.0,291.0 1257.4,325.2 1257.9,341.5 1258.4,349.2 1258.9,349.0 1259.3,352.8 1259.8,346.9 1260.3,328.2 1260.8,298.9 1261.2,274.5 1261.7,244.1 1261.9,234.3 1262.2,246.0 1262.7,275.4 1263.1,300.9 1263.6,326.3 1264.1,348.6 1264.6,352.0 1265.0,342.7 1265.5,344.5 1266.0,341.3 1266.5,338.7 1266.9,316.9 1267.4,302.3 1267.9,278.8 1268.4,258.8 1268.6,243.6 1268.8,260.1 1269.3,278.3 1269.8,301.9 1270.2,316.3 1270.7,337.5 1271.2,342.3 1271.7,344.5 1272.1,340.6 1272.6,344.8 1273.0,340.6 1273.5,342.2 1274.0,326.5 1274.4,315.3 1274.9,296.4 1275.3,279.7 1275.8,255.3 1276.2,280.2 1276.7,294.9 1277.1,317.5 1277.6,325.9 1278.0,341.4 1278.5,339.9 1279.0,345.9 1279.4,355.0 1279.9,359.3 1280.4,355.8 1280.8,345.2 1281.3,320.5 1281.8,297.3 1282.2,266.6 1282.7,238.4 1283.2,265.6 1283.7,298.5 1284.1,320.5 1284.6,346.6 1285.1,354.6 1285.6,359.2 1286.0,355.7 1286.5,360.1 1287.0,355.9 1287.5,346.0 1287.9,319.3 1288.4,297.8 1288.9,269.6 1289.4,245.6 1289.8,268.3 1290.3,297.4 1290.8,318.4 1291.3,345.7 1291.7,355.6 1292.2,360.6 1292.7,359.4 1293.2,363.6 1293.6,358.0 1294.1,344.8 1294.5,313.3 1295.0,279.1 1295.4,232.7 1295.9,280.3 1296.3,313.0 1296.8,344.5 1297.3,357.1 1297.7,363.2 1298.2,350.1 1298.6,353.6 1299.1,349.2 1299.5,341.5 1300.0,318.6 1300.5,299.6 1300.9,270.6 1301.4,246.5 1301.8,271.3 1302.3,299.0 1302.8,319.5 1303.2,342.5 1303.7,350.9 1304.1,353.7 1304.6,350.2 1305.1,353.5 1305.5,346.7 1306.0,322.9 1306.5,283.2 1307.0,251.5 1307.4,211.5 1307.9,253.0 1308.4,284.4 1308.9,321.9 1309.4,346.5 1309.8,355.4 1310.3,352.8 1310.8,356.3 1311.2,353.3 1311.7,351.9 1312.1,337.9 1312.6,323.3 1313.0,302.6 1313.5,282.2 1313.9,255.1 1314.4,283.1 1314.8,301.6 1315.3,325.0 1315.7,337.1 1316.2,352.4 1316.6,352.3 1317.1,355.9 1317.5,346.8 1318.0,351.1 1318.5,349.4 1319.0,337.1 1319.4,308.3 1319.9,282.8 1320.4,243.1 1320.6,229.0 1320.8,245.0 1321.3,283.2 1321.8,310.2 1322.2,337.0 1322.7,347.1 1323.2,351.4 1323.7,322.0 1324.1,325.8 1324.6,324.3 1325.1,306.6 1325.6,284.8 1326.1,266.3 1326.5,241.6 1327.0,223.7 1327.5,240.1 1328.0,266.2 1328.5,285.8 1328.9,309.4 1329.4,322.0 1329.9,327.2 1330.4,321.5 1330.8,326.0 1331.3,321.6 1331.8,315.4 1332.3,290.1 1332.7,273.9 1333.2,245.9 1333.7,225.7 1333.9,208.6 1334.1,225.2 1334.6,247.4 1335.1,273.2 1335.6,290.9 1336.0,313.5 1336.5,323.0 1337.0,326.0 1337.4,319.5 1337.9,321.9 1338.4,317.8 1338.9,302.5 1339.4,281.2 1339.8,263.4 1340.3,237.8 1340.6,229.5 1340.8,238.6 1341.3,265.3 1341.8,282.2 1342.2,304.5 1342.7,317.9 1343.2,322.2 1343.7,331.9 1344.1,335.7 1344.6,331.7 1345.1,331.2 1345.6,311.5 1346.0,297.6 1346.5,272.8 1347.0,255.6 1347.4,225.9 1347.9,254.7 1348.4,275.0 1348.8,297.5 1349.3,312.1 1349.8,330.6 1350.2,332.4 1350.7,334.7 1351.2,322.6 1351.7,324.1 1352.1,321.2 1352.6,312.2 1353.0,290.1 1353.5,272.0 1354.0,247.2 1354.4,225.6 1354.9,248.0 1355.3,272.2 1355.8,289.9 1356.3,312.6 1356.7,323.5 1357.2,326.8 1357.7,341.8 1358.1,344.9 1358.6,338.5 1359.1,321.3 1359.6,297.8 1360.1,280.2 1360.6,254.2 1361.1,281.8 1361.5,300.0 1362.0,322.6 1362.5,339.4 1363.0,344.0 1363.5,348.5 1363.9,349.7 1364.4,347.3 1364.9,347.5 1365.3,330.3 1365.8,313.9 1366.2,287.1 1366.7,264.0 1367.1,231.5 1367.6,265.4 1368.1,288.0 1368.5,315.6 1369.0,329.6 1369.4,347.5 1369.9,348.0 1370.3,352.1 1370.8,342.2 1371.3,344.6 1371.7,343.0 1372.2,337.0 1372.6,319.6 1373.1,302.9 1373.5,276.7 1374.0,255.3 1374.2,237.9 1374.4,255.8 1374.9,277.3 1375.4,302.0 1375.8,320.1 1376.3,337.6 1376.7,343.1 1377.2,348.1 1377.6,349.0 1378.1,352.4 1378.6,341.1 1379.0,314.2 1379.5,278.4 1380.0,251.1 1380.2,229.1 1380.4,249.6 1380.9,280.0 1381.4,315.6 1381.8,339.8 1382.3,351.8 1382.8,345.0 1383.3,349.0 1383.7,344.1 1384.2,333.2 1384.7,311.0 1385.2,290.3 1385.7,258.1 1386.2,290.0 1386.6,313.4 1387.1,334.5 1387.6,343.4 1388.1,348.0 1388.6,345.5 1389.0,349.9 1389.5,346.7 1390.0,337.2 1390.4,313.6 1390.9,290.3 1391.4,259.6 1391.9,232.0 1392.1,211.3 1392.3,231.3 1392.8,257.7 1393.3,288.8 1393.7,312.3 1394.2,339.5 1394.7,346.6 1395.2,350.0 1395.6,344.7 1396.1,347.2 1396.5,344.8 1397.0,331.8 1397.4,301.1 1397.9,278.7 1398.3,246.7 1398.8,218.7 1399.0,200.7 1399.3,218.5 1399.7,244.3 1400.2,278.1 1400.6,303.7 1401.1,332.5 1401.5,345.2 1402.0,348.5 1402.4,355.6 1402.9,358.7 1403.3,355.3 1403.8,341.3 1404.2,315.0 1404.7,292.2 1405.2,262.5 1405.6,239.7 1406.1,262.4 1406.5,292.0 1407.0,313.7 1407.4,341.5 1407.9,357.8 1408.3,358.7 1408.8,354.7 1409.3,357.3 1409.7,353.9 1410.2,348.6 1410.7,323.2 1411.1,301.6 1411.6,268.3 1412.1,242.7 1412.6,204.1 1413.0,242.9 1413.5,268.6 1414.0,301.8 1414.4,323.0 1414.9,348.7 1415.4,351.9 1415.9,356.5 1416.3,357.7 1416.8,361.7 1417.3,358.5 1417.7,342.6 1418.2,310.1 1418.6,282.3 1419.1,243.9 1419.3,228.3 1419.6,243.9 1420.0,282.5 1420.5,310.3 1420.9,341.7 1421.4,358.7 1421.9,362.6 1422.3,351.1 1422.8,355.3 1423.2,353.3 1423.7,345.3 1424.2,324.6 1424.6,307.7 1425.1,284.1 1425.6,262.6 1425.8,248.0 1426.0,264.2 1426.5,284.1 1426.9,306.9 1427.4,325.1 1427.9,345.2 1428.3,353.3 1428.8,356.8 1429.2,351.5 1429.7,356.2 1430.2,353.0 1430.6,336.8 1431.1,311.1 1431.6,289.0 1432.0,255.8 1432.2,242.7 1432.5,255.3 1432.9,288.4 1433.4,311.0 1433.9,337.9 1434.3,351.6 1434.8,356.2 1435.3,345.1 1435.7,346.6 1436.2,342.1 1436.7,315.5 1437.2,278.6 1437.7,244.2 1438.2,200.5 1438.6,244.0 1439.1,276.1 1439.6,315.5 1440.1,339.5 1440.6,348.5 1441.1,358.2 1441.5,361.1 1442.0,353.7 1442.5,329.9 1442.9,298.6 1443.4,272.9 1443.9,241.2 1444.4,269.7 1444.8,296.2 1445.3,328.6 1445.8,351.5 1446.3,361.3 1446.7,345.9 1447.2,348.9 1447.7,336.7 1448.2,309.2 1448.7,273.6 1449.2,244.6 1449.4,227.3 1449.6,244.9 1450.1,275.3 1450.6,309.4 1451.1,336.6 1451.6,351.5 1452.1,359.7 1452.5,362.6 1453.0,356.9 1453.4,346.3 1453.9,322.1 1454.3,301.9 1454.8,275.0 1455.2,301.6 1455.7,322.1 1456.2,346.5 1456.6,357.8 1457.1,360.6 1457.5,360.8 1458.0,362.9 1458.4,360.4 1458.9,347.1 1459.4,320.4 1459.8,293.9 1460.3,256.6 1460.8,293.2 1461.2,321.0 1461.7,347.2 1462.2,360.2 1462.6,364.4 1463.1,349.2 1463.5,351.5 1464.0,348.2 1464.4,331.9 1464.9,304.6 1465.4,280.1 1465.8,249.4 1466.0,237.7 1466.3,247.6 1466.7,278.9 1467.2,303.3 1467.6,331.6 1468.1,346.9 1468.5,352.8 1469.0,361.1 1469.4,362.7 1469.9,358.2 1470.4,359.1 1470.9,345.2 1471.3,336.5 1471.8,315.3 1472.3,301.5 1472.8,277.3 1473.2,299.9 1473.7,317.8 1474.2,335.8 1474.7,348.5 1475.1,359.2 1475.6,359.0 1476.1,363.0 1476.5,350.9 1477.0,353.4 1477.5,348.3 1477.9,331.0 1478.4,299.4 1478.8,274.0 1479.3,238.1 1479.8,273.6 1480.2,301.4 1480.7,331.1 1481.1,347.7 1481.6,352.8 1482.1,354.7 1482.5,356.0 1483.0,353.9 1483.5,344.4 1484.0,316.5 1484.5,290.8 1485.0,252.6 1485.2,237.8 1485.4,251.9 1485.9,289.4 1486.4,318.9 1486.9,343.2 1487.4,354.9 1487.8,358.2 1488.3,347.7 1488.8,349.0 1489.3,344.1 1489.7,329.5 1490.2,305.9 1490.7,279.4 1491.1,245.9 1491.6,280.3 1492.1,305.2 1492.5,331.3 1493.0,345.4 1493.5,349.3 1493.9,357.1 1494.4,361.6 1494.9,356.2 1495.4,339.2 1495.8,309.2 1496.3,284.3 1496.8,249.4 1497.0,237.6 1497.3,250.9 1497.8,286.1 1498.2,308.4 1498.7,340.2 1499.2,356.8 1499.7,360.6 1500.1,360.4 1500.6,362.7 1501.1,354.5 1501.6,336.6 1502.0,301.5 1502.5,266.8 1502.7,244.9 1503.0,269.9 1503.4,301.7 1503.9,335.0 1504.4,356.9 1504.9,364.1 1505.3,349.8 1505.8,354.0 1506.3,350.2 1506.8,329.0 1507.3,295.4 1507.8,266.2 1508.2,223.8 1508.7,265.4 1509.2,294.6 1509.7,329.3 1510.2,349.9 1510.7,354.6 1511.2,344.3 1511.6,347.8 1512.1,343.3 1512.6,328.1 1513.1,300.3 1513.6,274.6 1514.0,243.5 1514.5,274.2 1515.0,299.4 1515.5,328.1 1516.0,342.6"/>
<polyline fill="none" stroke="#0d0b0a" stroke-width="2.6" stroke-linejoin="miter" stroke-miterlimit="6" points="19.0,1071.9 19.5,1082.9 19.9,1073.6 20.4,1077.4 20.8,1068.9 21.3,1072.9 21.7,1057.1 22.2,1059.9 22.4,1047.1 22.7,1059.5 23.1,1058.7 23.6,1071.8 24.0,1067.6 24.5,1078.0 24.9,1074.1 25.4,1080.2 25.9,1069.2 26.3,1079.3 26.8,1070.4 27.3,1074.2 27.8,1063.1 28.2,1066.1 28.7,1054.9 29.2,1052.1 29.7,1053.1 30.1,1068.3 30.6,1065.0 31.1,1077.1 31.6,1068.7 32.0,1080.3 32.5,1071.4 33.0,1081.1 33.4,1071.4 33.9,1076.2 34.4,1065.7 34.9,1064.5 35.3,1049.9 35.6,1053.6 35.8,1050.0 36.3,1065.1 36.7,1061.8 37.2,1077.9 37.7,1073.1 38.1,1078.3 38.6,1072.8 39.1,1078.2 39.5,1069.1 40.0,1076.5 40.5,1067.3 40.9,1067.2 41.4,1056.6 41.9,1055.4 42.3,1051.6 42.8,1070.2 43.3,1064.4 43.7,1076.1 44.2,1070.7 44.7,1082.9 45.1,1072.7 45.6,1081.5 46.1,1072.1 46.6,1079.9 47.0,1064.3 47.5,1069.0 48.0,1052.9 48.5,1055.8 48.7,1045.9 49.0,1058.1 49.4,1054.3 49.9,1071.1 50.4,1065.8 50.9,1079.2 51.3,1068.7 51.8,1079.6 52.3,1069.0 52.8,1079.7 53.2,1066.9 53.7,1076.8 54.1,1065.0 54.6,1067.9 55.0,1057.2 55.3,1061.1 55.5,1055.6 55.9,1068.4 56.4,1062.7 56.8,1073.6 57.3,1068.8 57.8,1079.1 58.2,1072.5 58.7,1078.4 59.2,1070.2 59.6,1076.9 60.1,1067.5 60.6,1067.9 61.1,1055.7 61.5,1054.0 62.0,1055.5 62.5,1071.0 63.0,1069.5 63.4,1077.0 63.9,1071.3 64.4,1079.1 64.9,1072.4 65.3,1077.9 65.8,1068.1 66.3,1077.4 66.8,1066.0 67.2,1069.6 67.7,1056.9 68.2,1060.8 68.4,1048.9 68.7,1061.1 69.2,1059.4 69.6,1071.8 70.1,1064.2 70.6,1075.7 71.1,1070.1 71.5,1078.4 72.0,1072.9 72.5,1078.4 73.0,1073.3 73.5,1079.4 73.9,1066.2 74.4,1068.3 74.9,1052.1 75.1,1052.7 75.4,1048.7 75.9,1066.3 76.3,1064.0 76.8,1076.9 77.3,1071.5 77.8,1081.7 78.3,1072.1 78.7,1082.9 79.2,1073.5 79.6,1077.8 80.1,1070.1 80.5,1072.5 81.0,1060.6 81.4,1060.1 81.9,1045.3 82.3,1060.5 82.8,1060.1 83.3,1072.5 83.7,1069.0 84.2,1080.6 84.6,1068.8 85.1,1081.6 85.5,1071.3 86.0,1083.1 86.5,1072.0 86.9,1077.8 87.4,1064.7 87.9,1067.0 88.3,1055.4 88.6,1057.5 88.8,1054.3 89.3,1067.6 89.8,1064.8 90.2,1076.6 90.7,1071.5 91.2,1082.4 91.6,1071.8 92.1,1080.0 92.6,1071.6 93.0,1079.4 93.5,1064.6 94.0,1068.0 94.5,1057.3 94.7,1060.1 94.9,1055.2 95.4,1068.6 95.9,1067.0 96.3,1078.7 96.8,1070.4 97.3,1079.8 97.7,1071.5 98.2,1082.9 98.7,1069.8 99.2,1076.3 99.7,1060.7 100.2,1065.1 100.6,1047.1 101.1,1066.0 101.6,1064.9 102.1,1078.5 102.6,1073.5 103.1,1080.5 103.5,1074.0 104.0,1083.3 104.5,1071.5 104.9,1077.5 105.4,1062.1 105.9,1066.8 106.4,1050.4 106.6,1055.9 106.8,1052.3 107.3,1067.9 107.8,1065.2 108.2,1075.6 108.7,1072.7 109.2,1079.9 109.7,1068.3 110.1,1077.2 110.6,1069.7 111.0,1074.8 111.5,1062.7 112.0,1066.6 112.4,1054.1 112.9,1051.1 113.4,1053.6 113.8,1064.3 114.3,1063.8 114.8,1076.1 115.2,1070.3 115.7,1079.7 116.1,1074.9 116.6,1080.1 117.1,1069.0 117.5,1080.5 118.0,1065.3 118.4,1072.8 118.9,1058.1 119.4,1053.5 119.8,1054.7 120.3,1068.6 120.8,1065.8 121.2,1080.1 121.7,1070.1 122.1,1080.0 122.6,1071.5 123.1,1082.0 123.5,1070.1 124.0,1077.1 124.5,1067.7 125.0,1070.8 125.5,1058.5 125.9,1060.7 126.2,1046.8 126.4,1059.4 126.9,1057.1 127.4,1071.6 127.8,1066.0 128.3,1076.6 128.8,1068.1 129.3,1079.7 129.7,1070.0 130.2,1077.9 130.7,1069.9 131.2,1077.1 131.6,1064.6 132.1,1070.2 132.6,1055.1 132.8,1059.7 133.1,1055.1 133.5,1070.0 134.0,1066.4 134.5,1077.9 135.0,1068.6 135.4,1077.5 135.9,1072.1 136.4,1082.2 136.8,1069.8 137.3,1075.3 137.7,1059.2 138.2,1062.6 138.6,1045.5 138.8,1051.4 139.1,1048.5 139.5,1064.4 140.0,1062.0 140.4,1075.4 140.9,1070.8 141.3,1078.7 141.8,1074.3 142.3,1081.3 142.7,1072.7 143.2,1079.0 143.6,1067.1 144.1,1072.7 144.6,1055.1 145.0,1057.6 145.5,1055.0 145.9,1069.2 146.4,1069.9 146.9,1078.5 147.0,1072.4 147.5,1066.4 147.9,1046.1 148.3,1045.5 148.4,1038.4 148.9,1050.9 149.4,1047.4 149.8,1060.0 150.3,1057.7 150.8,1069.8 151.2,1062.7 151.7,1075.9 152.2,1072.3 152.7,1081.6 153.1,1075.2 153.6,1083.7 154.1,1059.8 154.5,1053.7 155.0,1032.3 155.1,1034.9 155.4,1031.3 155.9,1046.4 156.3,1043.8 156.8,1059.0 157.2,1054.2 157.7,1068.6 158.2,1061.6 158.6,1077.3 159.1,1068.3 159.5,1082.5 160.0,1075.7 160.4,1084.0 160.9,1078.1 161.4,1064.3 161.9,1034.4 162.1,1036.1 162.4,1030.4 162.8,1050.6 163.3,1049.5 163.8,1065.0 164.3,1060.4 164.8,1076.0 165.3,1070.2 165.7,1083.9 166.2,1074.7 166.7,1084.1 167.2,1052.4 167.6,1041.6 168.0,1019.8 168.1,1028.9 168.6,1027.4 169.0,1045.0 169.5,1042.6 170.0,1059.1 170.4,1054.7 170.9,1069.6 171.3,1068.3 171.8,1077.7 172.3,1075.1 172.7,1083.7 173.2,1075.2 173.7,1061.3 174.1,1035.0 174.6,1024.8 174.7,1016.3 175.0,1031.2 175.5,1030.3 176.0,1043.4 176.4,1042.2 176.9,1056.8 177.4,1056.4 177.8,1067.1 178.3,1066.7 178.8,1077.3 179.2,1069.9 179.7,1083.0 180.2,1075.3 180.6,1088.2 181.1,1054.3 181.6,1037.2 182.0,1009.4 182.1,1019.2 182.5,1021.6 183.0,1041.8 183.5,1039.0 184.0,1056.2 184.4,1057.0 184.9,1069.3 185.4,1068.8 185.9,1080.0 186.3,1075.4 186.8,1085.9 187.3,1080.3 187.7,1058.6 188.2,1022.4 188.4,1018.7 188.7,1020.9 189.1,1038.5 189.6,1038.7 190.0,1056.2 190.5,1057.1 191.0,1073.9 191.4,1069.0 191.9,1082.0 192.4,1075.1 192.8,1089.9 193.3,1053.5 193.7,1034.2 194.2,1007.6 194.3,1008.1 194.6,1010.0 195.1,1027.5 195.5,1030.5 196.0,1043.0 196.5,1042.2 196.9,1060.4 197.4,1058.9 197.8,1070.5 198.3,1066.7 198.7,1078.3 199.2,1075.4 199.6,1088.2 200.1,1076.4 200.6,1054.4 201.0,1014.6 201.3,1009.5 201.5,1005.5 202.0,1026.6 202.5,1029.6 202.9,1045.6 203.4,1049.7 203.9,1063.0 204.4,1061.8 204.8,1075.3 205.3,1073.3 205.8,1081.9 206.3,1075.1 206.7,1060.1 207.2,1027.0 207.6,1016.1 207.7,1004.1 208.1,1017.4 208.6,1021.9 209.0,1038.1 209.5,1038.0 209.9,1051.0 210.4,1048.1 210.8,1062.5 211.3,1060.1 211.8,1072.2 212.2,1068.3 212.7,1079.7 213.1,1073.3 213.6,1088.8 214.1,1047.4 214.5,1024.8 214.9,995.0 215.0,1002.9 215.4,1010.5 215.9,1030.2 216.3,1031.5 216.8,1047.4 217.2,1053.1 217.7,1068.8 218.1,1066.5 218.6,1077.6 219.1,1077.4 219.5,1086.1 220.0,1077.8 220.4,1052.3 220.9,1018.0 221.3,1001.2 221.4,999.0 221.9,1016.6 222.4,1021.0 222.8,1039.3 223.3,1041.4 223.8,1056.8 224.3,1057.3 224.8,1071.2 225.2,1071.1 225.7,1081.2 226.2,1076.8 226.7,1082.5 227.1,1044.8 227.6,1023.8 227.9,999.5 228.1,1013.6 228.5,1016.7 229.0,1032.5 229.5,1038.0 229.9,1053.0 230.4,1054.8 230.9,1063.9 231.3,1063.5 231.8,1077.6 232.3,1074.7 232.7,1083.0 233.2,1045.1 233.6,1026.4 234.1,993.5 234.5,1016.3 235.0,1019.2 235.4,1035.2 235.9,1036.4 236.4,1052.1 236.8,1051.4 237.3,1065.7 237.7,1065.6 238.2,1075.9 238.6,1075.4 239.1,1082.6 239.5,1080.7 240.0,1057.0 240.4,1024.7 240.9,1004.9 241.3,1007.5 241.8,1028.5 242.2,1031.4 242.7,1043.2 243.1,1047.3 243.6,1062.2 244.0,1063.4 244.5,1074.9 244.9,1074.6 245.4,1082.1 245.8,1080.4 246.3,1086.9 246.7,1042.6 247.2,1016.8 247.5,991.7 247.6,1003.7 248.1,1012.5 248.6,1028.2 249.0,1032.6 249.5,1051.2 250.0,1051.2 250.4,1064.5 250.9,1065.0 251.3,1077.9 251.8,1075.4 252.3,1085.9 252.7,1037.6 253.2,1012.0 253.4,992.3 253.7,1009.1 254.2,1016.3 254.7,1034.8 255.2,1040.7 255.7,1057.5 256.1,1056.8 256.6,1071.3 257.1,1069.2 257.6,1082.8 258.1,1079.4 258.5,1047.3 259.0,1009.0 259.3,997.0 259.5,996.3 260.0,1016.9 260.4,1021.7 260.9,1039.3 261.4,1043.1 261.8,1059.0 262.3,1058.5 262.8,1073.1 263.2,1071.7 263.7,1083.1 264.2,1081.0 264.7,1052.0 265.1,1018.9 265.5,1001.7 265.6,1000.5 266.1,1016.9 266.6,1022.7 267.1,1038.5 267.5,1041.8 268.0,1056.0 268.5,1057.5 269.0,1070.5 269.5,1068.7 269.9,1080.7 270.4,1078.2 270.9,1086.1 271.4,1048.7 271.8,1028.0 272.2,1002.3 272.3,1011.5 272.7,1017.5 273.2,1032.0 273.7,1036.4 274.1,1050.9 274.6,1054.1 275.1,1066.7 275.5,1064.4 276.0,1077.1 276.5,1075.7 276.9,1087.1 277.4,1079.6 277.9,1056.0 278.3,1022.6 278.8,1003.6 278.9,995.1 279.2,1009.0 279.7,1014.4 280.1,1029.6 280.6,1031.9 281.1,1047.1 281.5,1049.2 282.0,1062.9 282.4,1065.8 282.9,1077.3 283.4,1073.9 283.8,1083.1 284.3,1078.0 284.7,1083.5 285.2,1046.6 285.6,1022.0 286.1,993.6 286.2,993.3 286.5,997.0 287.0,1014.3 287.5,1018.2 287.9,1034.9 288.4,1038.1 288.8,1049.6 289.3,1050.4 289.7,1066.2 290.2,1065.0 290.6,1074.5 291.1,1073.4 291.5,1080.3 292.0,1080.7 292.4,1046.5 292.9,1009.9 293.2,996.5 293.4,997.5 293.8,1015.6 294.3,1021.7 294.8,1041.6 295.2,1045.8 295.7,1062.9 296.2,1064.5 296.6,1078.5 297.1,1075.3 297.6,1085.5 298.0,1080.5 298.5,1042.2 299.0,1000.7 299.2,991.3 299.5,994.2 300.0,1018.5 300.4,1023.9 300.9,1043.9 301.4,1048.8 301.9,1066.7 302.4,1066.6 302.8,1080.3 303.3,1079.1 303.8,1084.8 304.3,1035.4 304.8,1007.0 305.1,982.8 305.2,996.0 305.7,1003.4 306.2,1022.9 306.7,1029.8 307.2,1046.5 307.6,1052.3 308.1,1066.3 308.6,1066.6 309.1,1079.2 309.6,1075.8 310.0,1086.7 310.5,1049.0 311.0,1022.9 311.4,991.7 311.9,1010.9 312.4,1013.2 312.9,1031.0 313.3,1036.6 313.8,1048.8 314.3,1052.9 314.7,1064.7 315.2,1063.6 315.7,1074.8 316.1,1075.0 316.6,1086.0 317.1,1078.4 317.5,1048.4 318.0,1012.6 318.4,994.5 318.5,994.1 318.9,1011.4 319.4,1016.8 319.8,1032.6 320.3,1038.8 320.8,1053.2 321.2,1056.7 321.7,1070.2 322.1,1068.6 322.6,1078.1 323.1,1075.7 323.5,1085.1 324.0,1044.2 324.5,1019.6 324.8,989.6 324.9,999.5 325.4,1006.7 325.9,1024.3 326.4,1031.0 326.8,1044.5 327.3,1046.7 327.8,1061.0 328.3,1061.4 328.7,1071.9 329.2,1072.8 329.7,1081.4 330.2,1080.5 330.6,1055.4 331.1,1023.0 331.5,1001.0 331.6,990.8 332.0,1007.4 332.4,1011.6 332.9,1027.5 333.3,1031.0 333.8,1044.8 334.2,1050.5 334.7,1064.6 335.1,1066.2 335.6,1077.0 336.0,1074.0 336.5,1082.9 336.9,1079.7 337.4,1084.0 337.8,1041.7 338.3,1018.4 338.7,989.0 338.7,997.5 339.2,1005.7 339.6,1021.2 340.1,1029.1 340.5,1042.7 341.0,1048.1 341.5,1064.6 341.9,1063.7 342.4,1074.8 342.8,1076.0 343.3,1081.7 343.7,1079.2 344.2,1045.4 344.7,1006.6 344.8,1000.2 345.1,1002.9 345.6,1021.1 346.1,1028.6 346.6,1044.4 347.0,1052.8 347.5,1067.5 348.0,1068.2 348.5,1080.8 348.9,1077.1 349.4,1085.4 349.9,1043.8 350.3,1017.4 350.6,991.4 350.8,1004.6 351.3,1012.7 351.7,1028.4 352.2,1034.3 352.7,1050.5 353.2,1054.7 353.6,1066.3 354.1,1069.4 354.6,1079.9 355.0,1078.1 355.5,1084.6 356.0,1043.4 356.4,1018.0 356.8,988.7 356.9,998.0 357.3,1007.4 357.8,1022.1 358.3,1028.8 358.7,1044.9 359.2,1047.5 359.6,1062.1 360.1,1063.6 360.6,1074.1 361.0,1073.0 361.5,1082.6 361.9,1080.3 362.4,1046.0 362.9,1008.4 363.1,992.9 363.3,993.4 363.8,1015.0 364.2,1020.7 364.7,1037.1 365.1,1044.2 365.6,1058.8 366.0,1062.4 366.5,1073.4 367.0,1075.3 367.4,1082.8 367.9,1078.7 368.3,1045.3 368.8,1009.3 369.1,992.9 369.3,993.9 369.8,1014.0 370.3,1020.5 370.7,1037.9 371.2,1043.3 371.7,1058.6 372.2,1059.4 372.7,1073.0 373.1,1072.1 373.6,1083.4 374.1,1082.9 374.5,1056.1 375.0,1022.4 375.5,1002.6 375.5,993.4 375.9,1007.2 376.4,1012.8 376.8,1027.9 377.3,1033.0 377.7,1046.6 378.2,1046.7 378.6,1058.2 379.1,1059.4 379.5,1071.3 380.0,1070.9 380.4,1081.2 380.9,1079.6 381.4,1087.1 381.8,1048.9 382.3,1026.4 382.7,997.1 382.8,996.0 383.2,1001.7 383.7,1015.2 384.1,1019.9 384.6,1035.9 385.1,1040.8 385.5,1056.1 386.0,1058.2 386.5,1071.2 386.9,1071.7 387.4,1080.5 387.9,1079.6 388.3,1085.0 388.8,1079.4 389.3,1051.2 389.7,1017.5 390.2,993.9 390.7,1000.7 391.1,1018.2 391.6,1024.2 392.0,1039.3 392.5,1043.6 393.0,1055.9 393.4,1055.5 393.9,1066.7 394.4,1070.0 394.8,1079.0 395.3,1078.3 395.8,1085.5 396.2,1046.8 396.7,1019.2 397.1,986.1 397.6,1002.2 398.1,1011.2 398.5,1026.8 399.0,1032.8 399.4,1047.9 399.9,1051.3 400.4,1063.5 400.8,1065.4 401.3,1077.9 401.7,1076.5 402.2,1085.4 402.6,1078.1 403.1,1042.8 403.6,1004.1 403.9,988.9 404.1,992.1 404.6,1010.8 405.0,1019.0 405.5,1035.1 406.0,1040.4 406.5,1056.6 406.9,1060.2 407.4,1069.8 407.9,1072.2 408.4,1079.6 408.8,1081.9 409.3,1051.7 409.8,1018.9 410.2,994.3 410.7,1001.6 411.2,1018.9 411.6,1024.8 412.1,1039.8 412.5,1045.8 413.0,1059.4 413.5,1062.5 413.9,1071.7 414.4,1074.7 414.8,1081.5 415.3,1078.9 415.8,1084.8 416.2,1042.6 416.7,1015.1 417.2,980.3 417.7,999.3 418.2,1007.5 418.6,1023.6 419.1,1030.0 419.6,1046.4 420.1,1052.1 420.5,1067.3 421.0,1068.7 421.5,1079.1 422.0,1079.2 422.4,1084.4 422.9,1079.9 423.4,1038.4 423.9,996.9 424.1,984.9 424.3,991.3 424.8,1010.5 425.3,1021.7 425.8,1040.2 426.3,1048.5 426.7,1063.8 427.2,1065.7 427.7,1078.7 428.2,1079.0 428.7,1085.8 429.1,1040.7 429.6,1010.3 429.9,986.6 430.1,996.2 430.6,1007.3 431.1,1023.2 431.6,1031.4 432.0,1046.4 432.5,1053.9 433.0,1067.6 433.5,1069.7 434.0,1080.4 434.5,1078.9 434.9,1084.9 435.4,1041.6 435.9,1013.6 436.2,983.7 436.3,993.4 436.8,1000.5 437.3,1018.8 437.7,1025.8 438.2,1042.0 438.7,1046.0 439.1,1060.4 439.6,1062.9 440.1,1072.8 440.5,1074.3 441.0,1082.5 441.5,1082.0 441.9,1054.0 442.4,1021.4 442.8,998.5 442.9,987.5 443.3,1001.6 443.7,1009.3 444.2,1024.5 444.6,1031.0 445.1,1043.6 445.5,1046.8 446.0,1060.4 446.4,1062.3 446.9,1073.0 447.3,1073.6 447.8,1081.8 448.2,1081.7 448.7,1088.2 449.1,1035.4 449.6,999.3 449.9,970.6 450.1,984.5 450.5,995.6 451.0,1015.3 451.5,1024.5 451.9,1044.1 452.4,1049.0 452.9,1063.7 453.3,1069.2 453.8,1078.3 454.3,1081.7 454.7,1087.4 455.2,1030.3 455.7,988.3 455.9,968.3 456.2,986.2 456.6,998.8 457.1,1019.1 457.6,1031.1 458.1,1050.4 458.5,1056.1 459.0,1071.8 459.5,1075.2 459.9,1086.6 460.4,1079.7 460.9,1044.4 461.3,1005.6 461.8,978.4 461.9,966.4 462.2,984.7 462.7,990.7 463.1,1009.0 463.6,1016.6 464.0,1033.8 464.5,1036.3 464.9,1050.5 465.4,1053.5 465.9,1063.5 466.3,1068.1 466.8,1076.2 467.2,1075.2 467.7,1084.2 468.1,1037.1 468.6,1003.9 469.0,965.8 469.5,986.3 469.9,995.4 470.4,1013.6 470.8,1021.4 471.3,1039.1 471.8,1041.9 472.2,1057.7 472.7,1061.7 473.1,1070.7 473.6,1073.9 474.0,1083.7 474.5,1081.3 474.9,1033.4 475.4,981.6 475.6,968.1 475.9,976.8 476.3,1000.1 476.8,1013.6 477.3,1034.0 477.7,1042.0 478.2,1056.4 478.7,1061.2 479.1,1076.2 479.6,1078.4 480.1,1084.3 480.5,1033.4 481.0,995.0 481.3,960.3 481.4,969.4 481.9,979.6 482.3,999.5 482.8,1010.6 483.2,1030.6 483.7,1036.1 484.2,1051.3 484.6,1057.6 485.1,1068.2 485.5,1071.9 486.0,1083.0 486.4,1081.4 486.9,1041.3 487.3,995.8 487.7,968.0 487.8,969.9 488.2,988.0 488.7,1000.9 489.1,1018.3 489.6,1029.3 490.0,1045.8 490.5,1051.3 490.9,1067.5 491.4,1070.9 491.8,1080.7 492.3,1080.1 492.7,1088.6 493.2,1025.9 493.7,981.6 493.9,958.3 494.2,976.4 494.7,991.0 495.2,1014.3 495.7,1026.5 496.2,1048.1 496.6,1056.7 497.1,1072.9 497.6,1076.0 498.1,1087.7 498.6,1083.1 499.1,1039.8 499.6,996.9 500.0,964.1 500.5,974.8 501.0,994.4 501.5,1006.1 502.0,1024.3 502.4,1032.1 502.9,1045.7 503.4,1049.7 503.9,1063.8 504.3,1067.0 504.8,1078.6 505.3,1079.2 505.8,1085.5 506.2,1033.8 506.7,998.1 507.0,970.1 507.1,983.3 507.6,993.1 508.0,1014.3 508.5,1023.5 508.9,1041.0 509.4,1049.8 509.8,1064.2 510.3,1069.8 510.7,1079.4 511.2,1078.2 511.6,1085.8 512.1,1029.4 512.6,987.6 512.8,967.7 513.1,984.9 513.5,996.9 514.0,1016.6 514.5,1030.0 514.9,1047.6 515.4,1056.5 515.9,1068.9 516.3,1074.4 516.8,1081.8 517.3,1082.8 517.7,1041.8 518.2,994.1 518.5,967.3 518.6,967.3 519.1,988.1 519.5,1001.5 520.0,1018.1 520.5,1028.6 520.9,1044.7 521.4,1050.9 521.8,1065.6 522.3,1069.9 522.7,1081.0 523.2,1080.8 523.7,1086.1 524.1,1033.1 524.6,993.6 524.9,965.4 525.1,977.0 525.5,990.3 526.0,1011.0 526.5,1021.1 527.0,1038.1 527.4,1047.4 527.9,1062.2 528.4,1066.4 528.8,1076.8 529.3,1079.9 529.8,1087.3 530.3,1041.0 530.7,1008.7 531.2,970.4 531.3,968.3 531.6,976.1 532.1,993.3 532.6,1004.3 533.0,1022.3 533.5,1028.5 534.0,1044.6 534.4,1051.8 534.9,1064.0 535.4,1068.6 535.8,1078.1 536.3,1080.4 536.8,1086.9 537.2,1080.4 537.7,1041.8 538.1,1003.8 538.6,972.2 538.7,961.4 539.1,979.7 539.5,989.5 540.0,1007.6 540.4,1015.9 540.9,1031.3 541.4,1038.4 541.8,1054.7 542.3,1057.7 542.7,1070.8 543.2,1072.0 543.7,1081.0 544.1,1078.0 544.6,1088.9 545.1,1031.1 545.5,990.2 545.8,958.6 546.0,969.9 546.5,986.0 547.0,1007.2 547.5,1019.5 548.0,1037.0 548.4,1045.9 548.9,1057.8 549.4,1064.7 549.9,1078.1 550.4,1080.4 550.8,1088.4 551.3,1031.3 551.8,988.0 552.0,968.3 552.3,983.0 552.7,998.0 553.2,1020.2 553.7,1032.8 554.2,1047.9 554.6,1054.2 555.1,1067.2 555.6,1072.8 556.1,1084.1 556.5,1081.0 557.0,1033.6 557.5,986.7 557.7,964.7 557.9,969.3 558.4,992.6 558.8,1002.9 559.3,1023.6 559.8,1030.9 560.2,1047.4 560.7,1053.9 561.1,1065.3 561.6,1071.2 562.1,1079.4 562.5,1085.0 563.0,1043.4 563.4,1003.0 563.9,969.5 564.4,981.7 564.8,1000.8 565.3,1010.0 565.8,1029.0 566.2,1035.0 566.7,1049.2 567.1,1053.8 567.6,1068.4 568.1,1069.3 568.5,1080.8 569.0,1083.0 569.4,1085.7 569.9,1034.4 570.4,1000.4 570.8,958.6 570.9,955.5 571.3,964.5 571.8,985.0 572.2,995.2 572.7,1013.2 573.2,1023.3 573.6,1036.2 574.1,1042.8 574.6,1055.2 575.0,1060.5 575.5,1069.3 575.9,1072.9 576.4,1080.9 576.9,1083.5 577.4,1028.5 577.8,974.5 578.0,959.2 578.3,969.2 578.8,993.6 579.3,1009.3 579.8,1030.2 580.2,1044.8 580.7,1063.7 581.2,1070.9 581.7,1081.5 582.2,1083.4 582.7,1088.2 583.1,1028.9 583.6,985.0 583.8,953.6 584.0,968.4 584.5,983.2 584.9,1004.1 585.4,1018.3 585.8,1036.5 586.3,1045.1 586.8,1061.2 587.2,1066.4 587.7,1078.6 588.1,1079.7 588.6,1087.1 589.0,1038.2 589.5,1005.2 590.0,965.8 590.1,961.3 590.4,972.4 590.9,992.0 591.4,1000.6 591.8,1018.8 592.3,1027.8 592.8,1040.6 593.2,1045.8 593.7,1059.2 594.1,1062.3 594.6,1073.2 595.1,1075.1 595.5,1084.0 596.0,1081.5 596.5,1037.0 596.9,991.8 597.2,971.7 597.4,975.8 597.9,996.5 598.3,1008.4 598.8,1026.6 599.3,1035.8 599.8,1048.9 600.2,1054.8 600.7,1068.7 601.2,1071.9 601.6,1081.3 602.1,1079.7 602.6,1043.6 603.0,1003.2 603.5,971.5 603.6,962.1 603.9,979.4 604.4,989.4 604.8,1005.8 605.3,1014.7 605.8,1031.6 606.2,1039.2 606.7,1053.2 607.1,1058.1 607.6,1070.1 608.0,1074.2 608.5,1080.4 608.9,1079.7 609.2,1087.0 609.8,950.0 610.5,735.0 611.5,850.0 612.5,905.0 614.0,960.0 616.0,985.0 618.0,995.0 618.0,992.4 618.7,1017.8 619.4,990.8 620.1,1019.5 620.8,992.0 621.5,1019.1 622.2,991.2 622.9,1018.9 623.6,990.5 624.3,1021.2 625.0,990.2 625.7,1021.1 626.0,1026.3 626.5,997.1 627.0,966.3 627.1,962.8 627.4,973.5 627.9,988.1 628.4,998.9 628.9,1008.3 629.4,1013.1 629.9,1018.4 630.3,1020.5 630.8,1024.9 631.3,1026.7 631.8,1033.5 632.3,994.2 632.7,961.5 632.9,953.3 633.2,968.6 633.7,982.8 634.2,1000.0 634.7,1008.7 635.2,1016.3 635.7,1020.8 636.1,1027.0 636.6,1029.2 637.1,1032.5 637.6,1032.7 638.0,982.4 638.5,934.2 638.5,934.1 639.0,957.5 639.4,979.9 639.9,998.3 640.3,1007.9 640.8,1013.0 641.3,1019.7 641.7,1025.5 642.2,1031.6 642.6,1035.9 643.1,981.6 643.6,932.7 643.6,933.3 644.1,957.4 644.5,980.8 645.0,999.3 645.5,1010.3 645.9,1016.0 646.4,1022.8 646.9,1027.3 647.3,1035.3 647.8,1042.7 648.3,979.4 648.7,920.1 648.8,910.3 649.2,933.3 649.7,961.0 650.1,984.3 650.6,1004.5 651.1,1014.3 651.5,1025.5 652.0,1031.0 652.4,1037.8 652.9,1039.9 653.4,1041.7 653.8,969.7 654.3,909.6 654.3,905.7 654.8,938.5 655.2,966.3 655.7,993.1 656.1,1005.4 656.6,1018.0 657.1,1024.0 657.5,1033.8 658.0,1036.9 658.4,1042.2 658.9,977.9 659.3,926.0 659.4,912.8 659.8,937.6 660.3,960.7 660.7,987.0 661.2,1001.1 661.6,1013.8 662.1,1020.1 662.6,1028.5 663.0,1033.5 663.5,1039.7 663.9,1043.2 664.4,960.8 664.8,896.9 664.9,906.8 665.4,942.3 665.9,976.4 666.3,999.1 666.8,1014.4 667.3,1023.9 667.8,1034.0 668.3,1040.5 668.7,1044.8 669.2,973.2 669.7,914.1 669.7,910.4 670.2,943.9 670.7,970.6 671.2,998.3 671.7,1009.5 672.1,1020.4 672.6,1027.1 673.1,1036.0 673.6,1040.5 674.1,1048.0 674.6,976.8 675.0,918.7 675.1,905.1 675.5,932.4 676.0,958.1 676.5,986.3 676.9,1002.2 677.4,1012.5 677.9,1020.5 678.4,1030.5 678.9,1034.9 679.3,1043.2 679.8,1045.6 680.3,979.7 680.8,920.6 680.9,909.2 681.3,933.6 681.7,961.5 682.2,985.4 682.7,1004.0 683.2,1010.9 683.7,1021.0 684.2,1027.6 684.6,1036.6 685.1,1041.0 685.6,1049.5 686.1,981.2 686.6,924.1 686.7,911.1 687.0,936.9 687.5,964.4 688.0,989.8 688.4,1007.7 688.9,1019.4 689.4,1026.9 689.8,1037.1 690.3,1041.7 690.8,1047.8 691.2,1048.5 691.7,974.8 692.1,918.0 692.2,926.2 692.7,957.8 693.2,989.8 693.7,1009.1 694.1,1020.5 694.6,1029.2 695.1,1039.0 695.6,1045.1 696.1,1050.7 696.6,989.1 697.0,946.0 697.0,949.0 697.5,977.2 698.0,1000.1 698.5,1019.6 699.0,1029.2 699.4,1037.7 699.9,1043.2 700.4,1048.7 700.9,1052.7 701.4,974.8 701.8,917.0 701.9,925.4 702.4,957.5 702.9,988.6 703.3,1009.9 703.8,1022.2 704.3,1031.2 704.8,1041.7 705.3,1047.2 705.8,1048.9 706.3,984.2 706.7,932.8 706.8,930.6 707.2,959.6 707.7,982.1 708.2,1007.1 708.6,1018.2 709.1,1030.2 709.6,1036.5 710.0,1042.6 710.5,1045.6 711.0,1054.9 711.5,994.8 711.9,946.3 712.0,934.0 712.4,957.5 712.9,980.2 713.4,1002.3 713.8,1018.9 714.3,1028.5 714.8,1036.3 715.2,1044.7 715.7,1047.8 716.2,1052.5 716.7,1049.6 717.1,974.4 717.5,916.7 717.6,925.6 718.1,957.9 718.5,989.7 719.0,1010.3 719.5,1022.7 719.9,1031.4 720.4,1041.1 720.9,1045.6 721.4,1051.9 721.8,986.0 722.3,930.7 722.3,927.0 722.7,958.1 723.2,982.6 723.6,1008.9 724.1,1018.5 724.6,1030.2 725.0,1036.7 725.5,1044.9 725.9,1048.2 726.4,1054.3 726.8,986.7 727.3,931.0 727.4,916.9 727.7,942.8 728.2,968.5 728.6,995.4 729.1,1013.1 729.6,1025.6 730.0,1032.2 730.5,1042.5 730.9,1046.5 731.4,1053.1 731.8,1050.1 732.3,974.2 732.7,916.0 732.8,925.3 733.3,956.4 733.8,987.2 734.2,1009.2 734.7,1024.0 735.2,1032.3 735.7,1042.1 736.2,1046.0 736.7,1054.6 737.1,973.7 737.5,917.1 737.6,922.3 738.1,959.0 738.6,989.3 739.1,1014.5 739.6,1025.2 740.0,1038.5 740.5,1045.7 741.0,1052.3 741.5,1055.8 742.0,990.8 742.4,930.4 742.5,920.5 742.9,944.0 743.4,972.7 743.9,996.6 744.3,1015.9 744.8,1024.4 745.3,1034.6 745.7,1040.3 746.2,1048.2 746.7,1052.3 747.2,1056.8 747.6,972.8 748.1,913.5 748.1,920.5 748.6,957.2 749.1,988.3 749.6,1014.6 750.1,1026.6 750.6,1039.7 751.0,1046.1 751.5,1054.3 752.0,1054.7 752.5,986.2 753.0,925.1 753.0,925.6 753.4,954.7 753.9,983.7 754.4,1007.9 754.9,1023.4 755.4,1031.3 755.8,1042.1 756.3,1048.0 756.8,1054.5 757.3,1055.3 757.8,987.7 758.2,927.2 758.3,916.6 758.7,939.5 759.2,969.4 759.6,993.5 760.1,1013.9 760.6,1022.9 761.0,1033.9 761.5,1041.0 762.0,1049.6 762.4,1051.6 762.9,1057.7 763.4,977.9 763.8,910.2 763.9,908.8 764.3,944.7 764.8,973.6 765.2,1005.5 765.7,1019.1 766.2,1032.0 766.6,1040.3 767.1,1050.3 767.6,1053.9 768.0,1058.6 768.5,986.1 769.0,925.9 769.0,912.1 769.4,939.8 769.9,966.7 770.3,995.0 770.8,1013.9 771.3,1027.8 771.7,1035.3 772.2,1044.9 772.6,1050.9 773.1,1056.7 773.6,1058.6 774.0,984.6 774.5,917.0 774.6,904.9 774.9,931.6 775.4,964.3 775.9,990.6 776.3,1013.2 776.8,1024.1 777.3,1037.7 777.7,1043.7 778.2,1053.7 778.6,1055.3 779.1,1059.2 779.6,990.5 780.0,934.4 780.1,921.3 780.5,947.6 780.9,973.7 781.4,1000.8 781.9,1016.3 782.3,1028.1 782.8,1035.4 783.2,1044.7 783.7,1049.6 784.2,1056.1 784.6,1057.9 785.1,981.3 785.6,914.3 785.7,901.8 786.1,928.2 786.5,961.0 787.0,989.2 787.5,1011.3 788.0,1019.6 788.4,1030.4 788.9,1039.3 789.4,1047.9 789.9,1052.9 790.4,1060.1 790.8,985.3 791.3,924.0 791.3,921.1 791.8,954.8 792.3,983.1 792.8,1011.8 793.3,1023.8 793.7,1036.3 794.2,1044.2 794.7,1052.8 795.2,1056.2 795.7,1058.9 796.1,975.5 796.6,906.0 796.7,891.1 797.0,922.7 797.5,953.4 797.9,985.8 798.4,1007.3 798.9,1021.7 799.3,1031.9 799.8,1042.4 800.2,1049.0 800.7,1056.5 801.1,1061.1 801.6,970.3 802.0,887.3 802.0,887.6 802.5,927.5 802.9,964.7 803.4,999.3 803.9,1019.0 804.3,1031.1 804.8,1044.6 805.2,1051.0 805.7,1058.9 806.1,1061.1 806.6,986.6 807.1,916.5 807.1,917.1 807.6,949.8 808.1,982.5 808.6,1009.4 809.0,1025.4 809.5,1035.4 810.0,1046.5 810.5,1053.2 811.0,1060.5 811.5,1061.0 811.9,988.0 812.4,923.0 812.5,912.5 812.9,938.2 813.4,969.4 813.8,994.7 814.3,1017.6 814.8,1028.1 815.3,1039.7 815.7,1047.4 816.2,1055.9 816.7,1058.5 817.2,1059.5 817.6,984.6 818.1,921.9 818.2,907.2 818.6,937.4 819.1,965.2 819.5,994.0 820.0,1013.2 820.5,1025.6 820.9,1033.7 821.4,1043.7 821.9,1048.9 822.4,1056.2 822.8,1062.3 823.3,979.3 823.7,904.0 823.8,905.2 824.2,940.6 824.7,975.6 825.1,1006.0 825.6,1023.3 826.0,1035.8 826.5,1048.1 826.9,1054.7 827.4,1061.3 827.8,1061.6 828.3,986.5 828.8,916.6 828.8,905.4 829.2,932.3 829.7,964.5 830.1,993.7 830.6,1016.3 831.0,1026.8 831.5,1040.2 831.9,1047.2 832.4,1055.6 832.8,1059.4 833.3,1063.7 833.8,963.6 834.2,894.5 834.3,901.3 834.7,944.5 835.2,983.0 835.7,1013.7 836.2,1028.9 836.7,1043.0 837.2,1053.1 837.7,1061.2 838.1,1062.1 838.6,975.0 839.1,898.1 839.1,897.2 839.6,935.1 840.1,972.6 840.6,1004.7 841.0,1022.7 841.5,1035.0 842.0,1046.7 842.5,1053.6 843.0,1062.2 843.4,1061.6 843.9,972.7 844.4,895.6 844.4,895.2 844.9,933.5 845.3,969.9 845.8,1001.5 846.3,1020.8 846.8,1032.9 847.2,1046.3 847.7,1053.3 848.2,1060.9 848.7,1063.8 849.2,967.1 849.6,878.2 849.7,863.0 850.1,898.3 850.6,940.3 851.1,975.9 851.6,1003.2 852.1,1017.9 852.5,1032.1 853.0,1042.6 853.5,1053.2 854.0,1058.7 854.5,1064.0 854.9,965.9 855.3,895.9 855.4,903.6 855.9,948.2 856.3,984.0 856.8,1014.0 857.3,1026.8 857.8,1041.3 858.2,1049.3 858.7,1058.9 859.2,1062.7 859.6,974.6 860.1,895.3 860.2,882.3 860.6,912.9 861.0,951.3 861.5,983.0 862.0,1010.6 862.4,1024.4 862.9,1038.4 863.4,1048.4 863.8,1057.9 864.3,1061.6 864.8,1062.8 865.2,959.6 865.7,872.5 865.7,868.4 866.2,915.5 866.6,955.7 867.1,994.8 867.6,1014.3 868.1,1031.2 868.5,1042.7 869.0,1053.9 869.5,1059.8 869.9,1060.7 870.4,959.5 870.8,887.4 870.9,893.2 871.4,940.3 871.9,978.2 872.4,1007.7 872.9,1021.3 873.4,1036.6 873.9,1045.8 874.4,1056.2 874.9,1059.3 875.3,966.3 875.8,881.9 875.8,881.4 876.3,922.7 876.8,961.9 877.3,997.6 877.8,1015.5 878.2,1028.3 878.7,1041.0 879.2,1048.3 879.7,1058.4 880.2,1061.2 880.6,973.6 881.1,891.8 881.2,878.4 881.6,910.1 882.1,948.8 882.5,981.6 883.0,1005.7 883.5,1016.3 884.0,1029.2 884.4,1039.7 884.9,1049.9 885.4,1056.5 885.9,1063.7 886.3,968.0 886.8,888.4 886.9,869.6 887.3,905.6 887.7,942.9 888.2,980.7 888.7,1003.9 889.1,1018.9 889.6,1028.5 890.1,1041.4 890.5,1049.6 891.0,1059.4 891.5,1062.0 891.9,971.7 892.3,903.7 892.4,913.6 892.9,951.5 893.4,988.6 893.8,1014.8 894.3,1030.6 894.8,1041.6 895.3,1053.7 895.7,1058.2 896.2,1066.2 896.7,972.5 897.2,893.0 897.3,877.1 897.6,912.2 898.1,948.0 898.6,984.6 899.1,1007.9 899.6,1023.0 900.0,1033.2 900.5,1045.6 901.0,1053.4 901.5,1062.1 901.9,1065.0 902.4,975.0 902.9,894.4 902.9,895.4 903.3,934.6 903.8,972.0 904.2,1004.8 904.7,1021.2 905.2,1030.8 905.6,1043.6 906.1,1053.2 906.5,1062.3 907.0,1066.6 907.5,962.0 907.9,884.0 908.0,893.7 908.4,938.1 908.9,982.1 909.4,1011.1 909.9,1031.5 910.4,1043.6 910.9,1056.4 911.3,1062.9 911.8,1065.9 912.3,990.2 912.7,927.2 912.8,911.5 913.2,940.8 913.6,970.4 914.1,999.9 914.5,1016.4 915.0,1029.4 915.4,1037.0 915.9,1046.3 916.3,1052.4 916.8,1060.2 917.2,1061.5 917.7,977.7 918.2,900.9 918.2,900.6 918.7,937.3 919.2,973.6 919.7,1004.5 920.2,1022.7 920.6,1035.0 921.1,1047.0 921.6,1053.0 922.1,1059.7 922.6,1063.0 923.1,969.7 923.5,886.9 923.6,871.5 924.0,905.8 924.5,945.4 925.0,980.0 925.5,1006.9 925.9,1019.0 926.4,1033.2 926.9,1042.8 927.4,1052.6 927.8,1059.5 928.3,1062.5 928.8,941.6 929.2,856.3 929.3,865.1 929.8,918.8 930.3,962.9 930.8,1000.8 931.3,1016.8 931.8,1034.1 932.3,1045.2 932.8,1057.2 933.2,1064.0 933.7,941.8 934.1,849.4 934.2,860.9 934.7,914.6 935.1,964.6 935.6,999.9 936.1,1021.7 936.5,1036.1 937.0,1051.2 937.5,1059.0 938.0,1064.9 938.4,940.9 938.8,852.7 938.9,862.5 939.3,917.3 939.8,963.4 940.3,1000.1 940.7,1018.3 941.2,1036.0 941.7,1048.0 942.1,1059.9 942.6,1065.5 943.0,956.8 943.5,859.5 943.5,858.5 944.0,906.9 944.4,951.3 944.9,992.1 945.3,1014.2 945.8,1031.0 946.3,1045.4 946.7,1054.8 947.2,1063.4 947.6,1064.5 948.1,964.4 948.6,874.0 948.6,873.7 949.1,917.5 949.5,960.3 950.0,997.6 950.5,1016.0 951.0,1029.9 951.4,1043.1 951.9,1052.2 952.4,1061.7 952.9,1066.9 953.3,960.7 953.8,867.2 953.9,851.2 954.2,888.4 954.7,933.4 955.1,971.3 955.6,1003.2 956.0,1020.1 956.5,1035.5 956.9,1047.9 957.4,1058.0 957.8,1063.1 958.3,1064.5 958.8,960.0 959.2,872.1 959.3,868.2 959.7,916.1 960.2,956.1 960.7,996.6 961.2,1014.0 961.7,1032.2 962.2,1043.2 962.7,1054.1 963.2,1059.6 963.6,1064.1 964.1,938.9 964.5,849.8 964.6,858.3 965.1,913.7 965.5,961.0 966.0,1000.0 966.5,1018.4 966.9,1037.7 967.4,1048.7 967.9,1060.5 968.4,1062.8 968.8,940.8 969.2,849.8 969.3,861.6 969.8,914.4 970.2,963.6 970.7,999.2 971.2,1021.2 971.7,1035.3 972.1,1050.6 972.6,1058.2 973.1,1062.9 973.5,954.9 974.0,865.6 974.0,861.4 974.5,911.6 975.0,950.6 975.4,992.3 975.9,1009.8 976.4,1025.2 976.8,1037.3 977.3,1048.7 977.8,1057.0 978.2,1068.4 978.7,941.5 979.1,835.2 979.2,831.2 979.6,887.7 980.1,935.8 980.5,985.2 981.0,1006.9 981.4,1027.8 981.9,1043.6 982.4,1056.5 982.8,1064.1 983.3,1067.0 983.8,939.8 984.2,850.0 984.2,858.8 984.7,915.4 985.2,964.1 985.7,1001.5 986.1,1020.3 986.6,1038.0 987.1,1050.8 987.6,1062.0 988.0,1066.7 988.5,944.0 988.9,852.2 989.0,864.1 989.5,917.2 990.0,966.8 990.4,1001.4 990.9,1021.6 991.4,1034.4 991.9,1050.6 992.3,1060.1 992.8,1064.8 993.3,951.7 993.7,853.8 993.8,834.1 994.2,876.6 994.6,920.7 995.1,966.0 995.5,995.2 996.0,1014.8 996.4,1028.9 996.9,1044.0 997.3,1053.3 997.8,1061.8 998.3,1067.7 998.7,963.5 999.2,871.2 999.3,854.1 999.6,892.0 1000.1,935.3 1000.5,973.2 1001.0,1004.5 1001.4,1021.4 1001.9,1037.4 1002.3,1049.6 1002.8,1059.5 1003.2,1064.4 1003.7,1068.0 1004.1,949.5 1004.6,849.4 1004.7,828.2 1005.1,871.8 1005.5,918.5 1006.0,964.8 1006.5,995.3 1006.9,1018.2 1007.4,1033.4 1007.9,1048.2 1008.3,1056.8 1008.8,1065.3 1009.3,1067.3 1009.8,936.7 1010.2,839.8 1010.3,853.8 1010.7,907.9 1011.2,961.8 1011.7,997.4 1012.2,1017.5 1012.7,1031.7 1013.2,1049.1 1013.7,1059.4 1014.2,1067.5 1014.6,946.2 1015.1,843.2 1015.1,838.8 1015.5,895.3 1016.0,942.0 1016.4,987.3 1016.9,1007.1 1017.3,1025.0 1017.8,1039.5 1018.2,1053.4 1018.7,1061.7 1019.1,1064.2 1019.6,964.8 1020.0,895.3 1020.1,901.6 1020.5,945.9 1021.0,983.4 1021.5,1013.8 1021.8,900.0 1022.3,1079.0 1023.0,1051.0 1023.7,1071.5 1024.4,1050.8 1025.1,1072.7 1025.8,1050.0 1026.5,1073.0 1027.2,1050.1 1027.9,1071.1 1028.6,1051.6 1029.3,1072.4 1030.0,1051.3 1030.7,1072.1 1031.4,1050.2 1032.1,1072.4 1032.8,1050.6 1033.5,1071.7 1034.2,1051.0 1034.9,1072.4 1035.6,1051.5 1036.3,1071.0 1037.0,1051.6 1037.7,1072.5 1038.4,1050.4 1039.1,1073.0 1039.8,1051.8 1040.5,1072.4 1041.2,1050.2 1041.9,1076.8 1042.6,1051.0 1043.3,1072.3 1044.0,1051.3 1044.7,1072.5 1045.4,1050.3 1046.1,1072.8 1046.8,1050.0 1047.5,1072.1 1048.2,1050.5 1048.9,1072.6 1049.6,1050.8 1050.3,1071.4 1051.0,1050.4 1051.7,1075.5 1052.4,1050.2 1053.1,1072.4 1053.8,1051.9 1054.5,1071.7 1055.2,1052.0 1055.9,1072.4 1056.6,1050.9 1057.3,1071.5 1058.0,1050.4 1058.7,1071.0 1059.4,1050.1 1060.1,1072.5 1060.8,1050.6 1061.5,1072.7 1062.2,1051.4 1062.9,1071.3 1063.6,1051.1 1064.3,1071.7 1065.0,1051.3 1065.7,1072.8 1066.4,1050.0 1067.1,1071.1 1067.8,1050.5 1068.5,1072.5 1069.2,1051.3 1069.9,1072.4 1070.6,1051.4 1071.3,1071.8 1072.0,1051.6 1072.7,1072.9 1073.4,1051.3 1074.1,1072.3 1074.8,1051.4 1075.5,1071.5 1076.2,1050.0 1076.9,1072.7 1077.6,1051.5 1078.3,1073.9 1079.0,1051.3 1079.7,1071.5 1080.4,1050.6 1081.1,1072.5 1081.8,1050.7 1082.5,1071.5 1083.2,1050.9 1083.9,1071.1 1084.6,1050.0 1085.3,1071.1 1086.0,1050.7 1086.7,1072.3 1087.4,1051.7 1088.1,1072.0 1088.8,1051.3 1089.5,1071.3 1090.2,1050.0 1090.9,1072.8 1091.6,1050.2 1092.3,1071.2 1093.0,1050.3 1093.7,1072.2 1094.4,1051.8 1095.1,1076.9 1095.8,1050.3 1096.5,1071.4 1097.2,1050.8 1097.9,1071.7 1098.6,1050.4 1099.3,1072.0 1100.0,1051.6 1100.7,1072.6 1101.4,1045.5 1102.1,1072.4 1102.8,1051.3 1103.5,1071.2 1104.2,1050.0 1104.9,1072.9 1105.6,1050.9 1106.3,1072.3 1107.0,1050.2 1107.7,1071.1 1108.4,1051.9 1109.1,1072.9 1109.8,1050.5 1110.5,1071.5 1111.2,1050.5 1111.9,1071.5 1112.6,1050.8 1113.3,1071.6 1114.0,1050.1 1114.7,1071.8 1115.4,1051.7 1116.1,1071.3 1116.8,1046.5 1117.5,1072.4 1118.2,1051.3 1118.9,1071.5 1119.6,1051.1 1120.3,1071.7 1121.0,1050.3 1121.7,1073.0 1122.4,1050.6 1123.1,1072.2 1123.8,1050.1 1124.5,1071.6 1125.2,1050.7 1125.9,1071.3 1126.6,1050.5 1127.3,1072.2 1128.0,1050.3 1128.7,1072.7 1129.4,1050.5 1130.1,1071.8 1130.8,1050.5 1131.5,1071.9 1132.2,1052.0 1132.9,1072.0 1133.6,1051.1 1134.3,1072.0 1135.0,1050.9 1135.7,1072.9 1136.4,1051.9 1137.1,1071.4 1137.8,1050.3 1138.5,1071.4 1139.2,1050.7 1139.9,1071.2 1140.6,1051.6 1141.3,1072.9 1142.0,1050.3 1142.7,1072.7 1143.4,1051.1 1144.1,1071.2 1144.8,1051.1 1145.5,1072.1 1146.2,1050.9 1146.9,1072.4 1147.6,1051.2 1148.3,1071.0 1149.0,1050.1 1149.7,1071.4 1150.4,1051.1 1151.1,1071.7 1151.8,1051.1 1152.5,1072.1 1153.2,1051.3 1153.9,1071.7 1154.6,1050.5 1155.3,1072.9 1156.0,1050.8 1156.7,1071.3 1157.4,1051.0 1158.1,1072.3 1158.8,1051.5 1159.5,1071.0 1160.2,1051.8 1160.9,1071.4 1161.6,1051.6 1162.3,1072.1 1163.0,1050.4 1163.7,1071.1 1164.4,1048.6 1165.1,1073.0 1165.8,1051.4 1166.5,1071.4 1167.2,1051.8 1167.9,1071.4 1168.6,1050.8 1169.0,1046.8 1169.7,1069.6 1170.4,1044.7 1171.1,1068.9 1171.8,1041.2 1172.5,1064.4 1173.2,1039.9 1173.9,1064.9 1174.6,1040.8 1175.3,1064.6 1176.0,1041.1 1176.7,1064.7 1177.4,1039.4 1178.1,1064.7 1178.8,1040.3 1179.5,1064.7 1180.2,1038.4 1180.9,1065.0 1181.6,1038.2 1182.3,1065.3 1183.0,1039.5 1183.7,1064.8 1184.4,1038.0 1185.1,1065.7 1185.8,1037.2 1186.5,1065.8 1187.2,1037.3 1187.9,1064.5 1188.6,1036.5 1189.3,1065.3 1190.0,1036.4 1190.0,1065.5 1190.5,1053.9 1190.9,1040.3 1191.0,1042.0 1191.4,1047.4 1191.9,1053.9 1192.3,1057.1 1192.8,1060.5 1193.3,1060.9 1193.8,1064.7 1194.2,1063.8 1194.7,1067.2 1195.2,1066.4 1195.7,1052.9 1196.1,1039.2 1196.2,1043.4 1196.7,1048.5 1197.1,1056.6 1197.6,1058.8 1198.1,1063.6 1198.6,1063.4 1199.1,1067.9 1199.6,1065.8 1200.1,1071.1 1200.6,1048.6 1200.9,1036.1 1201.0,1035.3 1201.5,1046.8 1201.9,1052.9 1202.4,1060.4 1202.8,1062.2 1203.3,1066.3 1203.7,1066.9 1204.2,1070.8 1204.6,1068.9 1205.1,1038.4 1205.5,1007.6 1205.5,1008.1 1206.0,1022.2 1206.4,1036.9 1206.9,1047.4 1207.4,1055.8 1207.8,1059.6 1208.3,1064.3 1208.7,1065.6 1209.2,1069.6 1209.6,1068.7 1210.1,1033.2 1210.6,999.1 1210.6,998.1 1211.1,1015.4 1211.6,1031.7 1212.1,1045.0 1212.6,1051.5 1213.0,1054.9 1213.5,1060.4 1214.0,1062.8 1214.5,1068.7 1215.0,1069.2 1215.4,1037.0 1215.9,1006.7 1216.0,1002.1 1216.4,1012.7 1216.8,1028.8 1217.3,1039.9 1217.7,1049.6 1218.2,1052.5 1218.6,1059.4 1219.1,1061.9 1219.6,1066.0 1220.0,1067.9 1220.5,1070.0 1221.0,1030.2 1221.4,1003.2 1221.4,1004.3 1221.9,1023.8 1222.4,1037.5 1222.9,1050.1 1223.3,1054.3 1223.8,1060.1 1224.3,1062.6 1224.8,1068.0 1225.3,1073.4 1225.7,1013.8 1226.2,968.4 1226.2,975.1 1226.7,999.6 1227.2,1026.2 1227.7,1041.4 1228.2,1052.8 1228.7,1058.0 1229.2,1065.9 1229.7,1070.7 1230.1,1073.6 1230.6,1012.3 1231.0,969.6 1231.1,973.1 1231.6,1001.2 1232.1,1024.1 1232.6,1042.8 1233.0,1051.2 1233.5,1059.9 1234.0,1065.0 1234.5,1071.8 1235.0,1073.9 1235.4,1005.3 1235.9,943.4 1235.9,943.5 1236.4,972.8 1236.9,1004.1 1237.4,1028.2 1237.8,1042.7 1238.3,1050.8 1238.8,1061.7 1239.3,1065.4 1239.8,1072.9 1240.2,1072.7 1240.7,1024.9 1241.2,979.0 1241.2,980.1 1241.7,1000.4 1242.1,1023.4 1242.6,1040.3 1243.1,1050.4 1243.6,1055.5 1244.0,1063.6 1244.5,1068.7 1245.0,1073.1 1245.5,1071.5 1246.0,1010.8 1246.4,954.6 1246.4,954.5 1246.9,982.5 1247.4,1009.1 1247.9,1031.3 1248.4,1044.9 1248.8,1052.9 1249.3,1061.0 1249.8,1067.0 1250.3,1071.0 1250.8,1072.0 1251.2,1007.4 1251.7,950.4 1251.8,939.7 1252.1,963.0 1252.6,991.3 1253.0,1015.8 1253.5,1034.4 1254.0,1045.0 1254.4,1054.9 1254.9,1062.0 1255.3,1069.1 1255.8,1070.3 1256.2,1074.8 1256.7,1003.9 1257.1,945.0 1257.2,931.8 1257.6,959.1 1258.1,985.5 1258.5,1014.5 1259.0,1031.1 1259.5,1044.4 1259.9,1052.6 1260.4,1061.9 1260.8,1067.6 1261.3,1073.1 1261.8,1077.1 1262.3,1013.7 1262.7,958.3 1262.8,958.6 1263.2,986.2 1263.7,1013.4 1264.2,1035.1 1264.7,1048.4 1265.2,1055.6 1265.7,1065.2 1266.2,1069.6 1266.6,1075.6 1267.1,1076.6 1267.6,1010.2 1268.0,955.9 1268.1,964.1 1268.5,994.0 1269.0,1023.0 1269.5,1041.0 1269.9,1052.7 1270.4,1059.8 1270.8,1068.9 1271.3,1073.3 1271.8,1075.5 1272.2,962.3 1272.6,880.8 1272.7,890.1 1273.1,941.0 1273.6,984.2 1274.0,1017.7 1274.5,1031.1 1275.0,1047.3 1275.4,1058.8 1275.9,1069.4 1276.3,1079.1 1276.8,967.9 1277.2,882.6 1277.2,895.0 1277.7,943.2 1278.1,990.1 1278.6,1022.2 1279.1,1043.3 1279.5,1057.2 1280.0,1070.4 1280.4,1075.8 1280.9,1075.9 1281.4,965.2 1281.7,903.5 1281.9,921.2 1282.4,969.2 1282.9,1011.8 1283.4,1034.3 1283.9,1049.7 1284.4,1064.4 1284.8,1070.2 1285.3,1080.7 1285.8,994.6 1286.3,920.8 1286.4,906.0 1286.7,939.4 1287.2,971.8 1287.6,1006.1 1288.1,1028.4 1288.6,1044.6 1289.0,1053.7 1289.5,1065.5 1290.0,1071.1 1290.4,1077.2 1290.9,1078.1 1291.4,928.8 1291.8,796.6 1291.9,795.0 1292.3,861.9 1292.8,924.1 1293.3,979.6 1293.8,1011.9 1294.3,1032.0 1294.7,1052.3 1295.2,1065.8 1295.7,1076.7 1296.2,1076.0 1296.7,916.4 1297.0,796.2 1297.1,812.2 1297.6,882.3 1298.0,949.0 1298.5,993.2 1298.9,1019.1 1299.4,1037.3 1299.9,1056.4 1300.3,1068.4 1300.8,1076.0 1301.2,959.2 1301.7,860.4 1301.8,838.8 1302.1,884.2 1302.6,930.6 1303.0,976.7 1303.5,1005.0 1303.9,1024.5 1304.4,1037.9 1304.9,1053.1 1305.3,1063.3 1305.8,1073.1 1306.2,1076.6 1306.7,946.2 1307.1,849.6 1307.2,863.3 1307.7,918.6 1308.2,972.3 1308.7,1010.0 1309.2,1029.7 1309.6,1044.2 1310.1,1061.7 1310.6,1070.6 1311.1,1076.8 1311.6,973.0 1312.1,886.6 1312.1,882.7 1312.5,930.8 1313.0,971.5 1313.5,1010.8 1313.9,1024.4 1314.4,1037.7 1314.9,1048.6 1315.4,1061.5 1315.8,1067.7 1316.3,1075.4 1316.8,968.0 1317.2,878.6 1317.2,876.0 1317.7,924.2 1318.1,965.7 1318.6,1008.3 1319.0,1022.5 1319.5,1038.8 1319.9,1049.7 1320.4,1061.8 1320.8,1069.4 1321.3,1078.6 1321.7,969.6 1322.2,877.4 1322.3,857.0 1322.6,899.6 1323.1,942.1 1323.5,985.3 1324.0,1013.2 1324.4,1029.9 1324.9,1044.6 1325.3,1058.2 1325.8,1066.1 1326.2,1075.6 1326.7,1079.4 1327.2,972.6 1327.6,876.9 1327.6,876.7 1328.1,924.2 1328.6,969.5 1329.0,1008.9 1329.5,1029.6 1329.9,1042.3 1330.4,1056.7 1330.9,1066.1 1331.3,1075.1 1331.8,1076.7 1332.3,925.5 1332.7,813.6 1332.7,829.1 1333.2,893.4 1333.7,955.5 1334.2,997.9 1334.6,1018.6 1335.1,1035.1 1335.6,1052.8 1336.0,1066.5 1336.5,1077.6 1337.0,989.6 1337.5,915.5 1337.5,911.8 1337.9,952.9 1338.4,986.1 1338.9,1022.6 1339.4,1034.5 1339.8,1049.5 1340.3,1058.8 1340.8,1069.1 1341.3,1073.0 1341.7,1075.8 1342.2,905.1 1342.6,783.6 1342.6,797.8 1343.1,873.7 1343.6,939.9 1344.0,991.1 1344.5,1014.3 1344.9,1038.0 1345.4,1054.0 1345.8,1069.1 1346.3,1074.1 1346.8,967.6 1347.2,871.4 1347.2,871.4 1347.7,919.5 1348.2,963.4 1348.6,1003.7 1349.1,1026.8 1349.6,1041.1 1350.0,1056.3 1350.5,1065.6 1351.0,1072.6 1351.4,1076.8 1351.9,938.3 1352.4,815.4 1352.4,814.1 1352.8,877.2 1353.3,934.3 1353.7,987.1 1354.2,1011.0 1354.6,1027.4 1355.1,1046.3 1355.6,1058.9 1356.0,1071.6 1356.5,1077.4 1356.9,955.2 1357.3,862.0 1357.4,874.2 1357.9,928.9 1358.4,979.0 1358.9,1014.9 1359.3,1033.5 1359.8,1047.7 1360.3,1063.6 1360.8,1071.5 1361.3,1078.1 1361.8,910.9 1362.2,792.8 1362.3,806.0 1362.7,880.2 1363.2,945.5 1363.7,994.9 1364.2,1020.4 1364.7,1043.8 1365.2,1059.0 1365.7,1071.6 1366.2,1078.6 1366.7,942.2 1367.1,822.0 1367.2,799.6 1367.6,850.6 1368.0,907.7 1368.5,959.6 1368.9,998.0 1369.4,1015.8 1369.8,1034.9 1370.3,1049.7 1370.7,1064.7 1371.2,1074.2 1371.6,1078.0 1372.1,913.0 1372.6,772.9 1372.6,768.0 1373.1,843.7 1373.6,907.8 1374.0,971.2 1374.5,1000.9 1375.0,1027.4 1375.5,1045.9 1376.0,1062.7 1376.4,1070.7 1376.9,1075.2 1377.4,901.8 1377.8,777.6 1377.8,791.9 1378.3,869.5 1378.7,936.8 1379.2,988.3 1379.6,1012.7 1380.1,1037.1 1380.5,1053.6 1381.0,1068.1 1381.4,1075.7 1381.9,910.3 1382.3,786.6 1382.4,802.4 1382.9,875.7 1383.4,943.0 1383.8,989.9 1384.3,1014.4 1384.8,1034.3 1385.3,1054.4 1385.8,1067.5 1386.3,1076.7 1386.7,973.5 1387.2,886.1 1387.3,866.7 1387.6,906.8 1388.1,947.0 1388.5,988.3 1389.0,1012.6 1389.4,1028.4 1389.9,1039.0 1390.3,1051.6 1390.8,1060.2 1391.2,1071.1 1391.7,1077.8 1392.2,923.7 1392.6,785.7 1392.7,784.7 1393.1,853.8 1393.6,919.1 1394.1,977.3 1394.6,1002.6 1395.0,1022.2 1395.5,1041.1 1396.0,1056.9 1396.5,1071.3 1397.0,1077.6 1397.4,963.2 1397.9,859.3 1398.0,841.2 1398.3,882.9 1398.8,931.9 1399.2,975.4 1399.7,1011.1 1400.1,1027.8 1400.6,1044.9 1401.0,1057.4 1401.5,1070.1 1401.9,1075.4 1402.4,1074.8 1402.9,963.3 1403.3,884.5 1403.4,893.8 1403.8,943.5 1404.3,984.9 1404.8,1020.2 1405.3,1035.4 1405.8,1053.1 1406.2,1061.7 1406.7,1072.0 1407.2,1078.1 1407.6,948.0 1408.1,832.9 1408.2,811.9 1408.6,858.6 1409.0,913.4 1409.5,963.7 1409.9,1000.4 1410.4,1017.0 1410.9,1034.8 1411.3,1048.8 1411.8,1063.4 1412.3,1072.6 1412.7,1070.5 1413.2,934.9 1413.6,821.8 1413.7,798.1 1414.1,849.3 1414.6,903.0 1415.0,954.8 1415.5,989.0 1416.0,1013.1 1416.4,1030.1 1416.9,1046.0 1417.4,1056.9 1417.8,1066.5 1418.3,1039.3 1418.8,1040.4 1419.1,1039.4 1419.2,1040.6 1419.7,1039.3 1420.1,1040.1 1420.6,1039.2 1421.0,1041.0 1421.5,1040.1 1421.9,1042.1 1422.4,1039.7 1422.8,1074.2 1423.3,984.3 1423.8,911.5 1423.8,908.6 1424.3,948.8 1424.8,982.2 1425.3,1017.3 1425.8,1028.9 1426.3,1043.1 1426.7,1051.0 1427.2,1062.0 1427.7,1068.0 1428.2,1076.7 1428.7,923.1 1429.1,814.5 1429.2,827.3 1429.6,895.5 1430.1,953.4 1430.6,999.2 1431.1,1020.0 1431.6,1040.3 1432.1,1055.4 1432.5,1069.8 1433.0,1071.6 1433.5,962.3 1433.9,879.8 1434.0,890.2 1434.4,938.8 1434.9,984.4 1435.4,1017.2 1435.8,1036.7 1436.3,1049.9 1436.8,1064.3 1437.2,1069.9 1437.7,1074.2 1438.2,958.1 1438.7,861.6 1438.7,858.0 1439.1,912.0 1439.6,956.6 1440.1,1001.9 1440.6,1020.4 1441.1,1040.1 1441.6,1052.4 1442.0,1064.8 1442.5,1070.6 1443.0,1079.2 1443.5,974.2 1444.0,884.2 1444.0,881.4 1444.4,929.8 1444.9,969.9 1445.4,1011.4 1445.8,1026.1 1446.3,1039.3 1446.8,1051.0 1447.2,1064.2 1447.7,1071.2 1448.2,1078.2 1448.6,940.3 1449.1,824.1 1449.1,820.2 1449.5,882.9 1450.0,936.2 1450.4,990.8 1450.9,1014.8 1451.3,1036.5 1451.8,1051.0 1452.2,1066.0 1452.7,1072.2 1453.2,1080.0 1453.6,978.6 1454.1,893.3 1454.1,873.8 1454.5,912.9 1455.0,952.7 1455.4,993.6 1455.9,1017.8 1456.3,1035.9 1456.8,1046.5 1457.2,1059.5 1457.7,1068.5 1458.1,1076.8 1458.6,1078.1 1459.0,958.8 1459.5,853.1 1459.6,833.0 1459.9,877.1 1460.4,929.0 1460.9,973.9 1461.3,1007.0 1461.8,1023.4 1462.2,1042.2 1462.7,1054.6 1463.1,1066.5 1463.6,1074.4 1464.0,1074.3 1464.5,923.9 1464.9,794.9 1465.0,768.6 1465.4,825.8 1465.8,886.3 1466.3,945.0 1466.8,986.0 1467.2,1013.7 1467.7,1032.2 1468.1,1051.9 1468.6,1062.8 1469.0,1072.6 1469.5,1074.0 1469.9,969.0 1470.4,875.7 1470.4,874.1 1470.9,921.9 1471.4,966.3 1471.9,1005.0 1472.4,1024.4 1472.9,1037.0 1473.3,1051.3 1473.8,1061.1 1474.3,1070.9 1474.8,1078.5 1475.3,943.5 1475.6,861.7 1475.8,887.8 1476.3,945.4 1476.8,1000.4 1477.3,1025.8 1477.8,1047.0 1478.2,1060.2 1478.7,1073.4 1479.2,1074.3 1479.7,918.1 1480.1,800.8 1480.1,818.0 1480.6,885.8 1481.0,949.3 1481.5,996.4 1481.9,1023.6 1482.4,1043.3 1482.8,1061.2 1483.3,1070.1 1483.7,1074.7 1484.2,902.6 1484.6,779.1 1484.7,791.5 1485.2,870.4 1485.7,936.3 1486.2,989.5 1486.7,1014.0 1487.2,1037.9 1487.7,1054.7 1488.2,1068.5 1488.7,1073.6 1489.1,955.2 1489.5,864.3 1489.6,876.9 1490.1,929.3 1490.6,977.6 1491.0,1011.9 1491.5,1030.2 1492.0,1044.3 1492.5,1058.8 1493.0,1067.8 1493.4,1076.1 1493.9,962.4 1494.3,882.1 1494.4,889.4 1494.8,941.1 1495.3,983.3 1495.7,1019.6 1496.2,1034.1 1496.6,1051.9 1497.1,1061.9 1497.5,1072.5 1498.0,1074.4 1498.5,925.3 1498.9,793.0 1499.0,791.8 1499.4,858.3 1499.9,920.9 1500.4,976.3 1500.9,1005.4 1501.3,1025.0 1501.8,1045.4 1502.3,1058.4 1502.8,1071.4 1503.3,1075.8 1503.7,972.7 1504.2,881.0 1504.2,880.3 1504.7,926.0 1505.1,970.4 1505.6,1008.9 1506.1,1026.3 1506.6,1039.1 1507.0,1054.0 1507.5,1063.4 1508.0,1072.0 1508.5,1074.6 1508.9,930.0 1509.4,803.0 1509.5,779.2 1509.8,832.7 1510.3,893.8 1510.8,947.6 1511.2,990.6 1511.7,1011.1 1512.1,1034.2 1512.6,1047.6 1513.1,1061.7 1513.5,1070.3 1514.0,1075.2 1514.4,979.5 1514.9,898.3 1515.0,879.5 1515.4,917.4 1515.8,954.0 1516.3,992.4 1516.8,1016.6 1517.2,1032.1 1517.7,1042.7 1518.2,1056.0 1518.6,1062.6 1519.1,1072.0 1519.6,1075.2 1520.0,972.4 1520.5,880.0 1520.6,862.3 1520.9,901.1 1521.4,945.5 1521.8,984.2 1522.3,1015.4 1522.7,1030.3 1523.2,1046.4 1523.6,1056.7 1524.1,1068.7 1524.6,1073.3 1525.0,1074.9 1525.5,978.9 1526.0,898.5 1526.0,894.9 1526.5,939.8 1526.9,976.1 1527.4,1014.2 1527.9,1030.0 1528.4,1044.3 1528.9,1055.1 1529.3,1065.2 1529.8,1070.1 1530.3,1075.7 1530.8,961.1 1531.2,879.3 1531.3,888.9 1531.8,939.7 1532.3,984.7 1532.8,1018.8 1533.2,1031.9 1533.7,1047.7 1534.2,1058.0 1534.7,1070.6 1535.2,1074.4 1535.7,936.6 1536.0,834.7 1536.1,849.1 1536.6,909.1 1537.0,964.5 1537.5,1003.3 1537.9,1022.6 1538.4,1037.9 1538.8,1055.2 1539.3,1065.8 1539.7,1080.3 1540.2,966.7 1540.7,871.6 1540.7,868.2 1541.1,919.5 1541.6,963.5 1542.0,1007.9 1542.5,1022.2 1542.9,1037.8 1543.4,1049.5 1543.9,1063.2 1544.3,1071.8 1544.8,1079.5 1545.2,957.2 1545.7,853.4 1545.8,832.0 1546.2,877.9 1546.6,926.9 1547.1,975.2 1547.5,1006.4 1548.0,1027.2 1548.5,1042.7 1548.9,1058.8 1549.4,1067.3 1549.9,1076.9 1550.3,1074.9 1550.8,980.2 1551.2,910.1 1551.2,918.9 1551.7,959.6 1552.2,999.3 1552.6,1027.7 1553.1,1043.4 1553.6,1054.4 1554.0,1065.3 1554.5,1072.0 1555.0,1078.5 1555.4,988.3 1555.9,912.2 1555.9,908.6 1556.4,951.1 1556.9,984.3 1557.3,1020.8 1557.8,1034.8 1558.3,1049.0 1558.7,1058.8 1559.2,1069.7 1559.7,1073.8 1560.1,1080.8 1560.6,928.5 1561.0,818.4 1561.1,829.1 1561.6,898.7 1562.1,957.2 1562.6,1003.9 1563.1,1026.8 1563.6,1048.1 1564.1,1062.6 1564.6,1075.6 1565.1,1077.4 1565.5,983.5 1566.0,899.3 1566.0,898.7 1566.5,941.5 1567.0,981.0 1567.5,1015.4 1568.0,1032.3 1568.5,1042.8 1568.9,1055.9 1569.4,1064.5 1569.9,1074.0 1570.4,1078.5 1570.8,987.5 1571.3,907.0 1571.3,906.4 1571.8,946.7 1572.2,985.4 1572.7,1019.2 1573.2,1035.7 1573.6,1045.8 1574.1,1058.0 1574.6,1065.6 1575.0,1075.1 1575.5,1077.4 1576.0,967.3 1576.3,901.6 1576.5,921.9 1577.0,968.8 1577.5,1015.5 1578.0,1037.2 1578.5,1054.2 1578.9,1066.3 1579.4,1074.6"/>
<polyline fill="none" stroke="#0d0b0a" stroke-width="2.4" stroke-linejoin="miter" stroke-miterlimit="4" points="236.0,251.7 236.8,291.9 237.6,253.8 238.4,290.0 239.2,254.1 240.0,290.3 240.8,255.0 241.6,294.2 242.4,254.3 243.2,294.6 244.0,253.0 244.8,293.6 245.6,257.9 246.4,295.4 247.2,255.1 248.0,293.9 248.8,257.3 249.6,293.4 250.4,256.9 251.2,293.5 252.0,259.0 252.8,297.1 253.6,256.3 254.4,297.9 255.2,259.8 256.0,296.5 256.8,259.5 257.6,297.5 258.4,258.7 259.2,304.7 260.0,259.2 260.8,300.3 261.6,262.8 262.4,302.0 263.2,259.9 264.0,297.8 264.8,261.7 265.6,299.3 266.4,264.5 267.2,301.3 268.0,261.0 268.8,300.3 269.6,262.6 270.4,298.9 271.2,263.9 272.0,300.5 272.8,261.5 273.6,299.7 274.4,264.4 275.2,303.6 276.0,267.1 276.8,302.5 277.6,264.3 278.4,302.5 279.2,263.7 280.0,300.8 280.8,264.0 281.6,300.4 282.4,268.4 283.2,300.5 284.0,266.6 284.8,303.0 285.6,268.4 286.4,301.7 287.2,265.6 288.0,304.0 288.8,269.7 289.6,300.9 290.4,267.5 291.2,303.4 292.0,269.4 292.8,301.9 293.6,271.9 294.4,302.2 295.2,271.8 296.0,301.4 296.8,272.8 297.6,302.5 298.4,273.0 299.2,305.2 300.0,275.7 300.8,303.4 301.6,275.2 302.4,302.3 303.2,274.4 304.0,299.7 304.8,280.6 305.6,301.1 306.4,280.8 307.2,297.7 308.0,284.1 308.8,296.5 309.6,283.5 310.4,297.0 311.2,287.0 312.0,295.7 312.8,283.2 313.6,295.2 314.4,289.7 315.2,292.5 316.0,291.1 316.8,295.4 317.6,292.1"/>
<polyline fill="none" stroke="#0d0b0a" stroke-width="2.4" stroke-linejoin="miter" stroke-miterlimit="4" points="19.0,1058.0 19.7,1075.0 20.4,1058.4 21.1,1077.5 21.8,1056.1 22.5,1075.3 23.2,1056.2 23.9,1075.7 24.6,1057.7 25.3,1076.8 26.0,1056.7 26.7,1075.1 27.4,1056.5 28.1,1077.0 28.8,1057.4 29.5,1075.9 30.2,1058.8 30.9,1077.0 31.6,1057.9 32.3,1075.9 33.0,1057.0 33.7,1075.7 34.4,1056.4 35.1,1075.3 35.8,1056.7 36.5,1076.2 37.2,1056.9 37.9,1076.0 38.6,1058.3 39.3,1076.2 40.0,1058.6 40.7,1076.0 41.4,1057.1 42.1,1076.5 42.8,1057.6 43.5,1076.4 44.2,1058.1 44.9,1077.9 45.6,1057.9 46.3,1076.9 47.0,1056.4 47.7,1076.3 48.4,1057.4 49.1,1075.2 49.8,1057.2 50.5,1076.9 51.2,1056.8 51.9,1076.7 52.6,1057.1 53.3,1077.2 54.0,1058.9 54.7,1075.7 55.4,1056.4 56.1,1075.3 56.8,1056.6 57.5,1077.6 58.2,1056.3 58.9,1077.2 59.6,1057.6 60.3,1076.0 61.0,1056.9 61.7,1077.2 62.4,1056.3 63.1,1075.2 63.8,1058.9 64.5,1077.3 65.2,1056.9 65.9,1075.9 66.6,1058.3 67.3,1076.1 68.0,1056.2 68.7,1075.2 69.4,1056.6 70.1,1078.0 70.8,1056.1 71.5,1075.4 72.2,1058.6 72.9,1076.7 73.6,1056.2 74.3,1077.0 75.0,1057.1 75.7,1078.0 76.4,1058.6 77.1,1075.2 77.8,1058.1 78.5,1076.2 79.2,1056.9 79.9,1077.2 80.6,1056.3 81.3,1075.4 82.0,1058.8 82.7,1075.9 83.4,1057.4 84.1,1076.7 84.8,1056.1 85.5,1076.9 86.2,1057.1 86.9,1077.2 87.6,1057.7 88.3,1077.3 89.0,1057.6 89.7,1076.4 90.4,1057.8 91.1,1075.5 91.8,1056.8 92.5,1075.4 93.2,1057.3 93.9,1076.9 94.6,1056.8 95.3,1076.8 96.0,1056.9 96.7,1075.2 97.4,1058.2 98.1,1077.8 98.8,1058.9 99.5,1077.5 100.2,1056.5 100.9,1077.6 101.6,1057.9 102.3,1075.9 103.0,1056.5 103.7,1077.4 104.4,1058.5 105.1,1077.0 105.8,1056.7 106.5,1077.9 107.2,1058.1 107.9,1075.9 108.6,1057.1 109.3,1077.8 110.0,1058.1 110.7,1077.2 111.4,1058.1 112.1,1076.9 112.8,1056.7 113.5,1077.0 114.2,1056.2 114.9,1077.9 115.6,1058.3 116.3,1077.7 117.0,1056.8 117.7,1075.4 118.4,1057.0 119.1,1075.3 119.8,1057.6 120.5,1077.0 121.2,1058.8 121.9,1078.3 122.6,1058.5 123.3,1077.8 124.0,1058.3 124.7,1076.0 125.4,1057.2 126.1,1075.2 126.8,1056.9 127.5,1075.8 128.2,1058.1 128.9,1075.2 129.6,1056.5 130.3,1075.5 131.0,1057.8 131.7,1077.1 132.4,1058.1 133.1,1077.8 133.8,1057.8 134.5,1076.6 135.2,1058.1 135.9,1080.1 136.6,1056.9 137.3,1077.2 138.0,1056.2 138.7,1076.5 139.4,1059.0 140.1,1076.6 140.8,1056.8 141.5,1076.6 142.2,1057.3 142.9,1076.0 143.6,1059.0 144.3,1076.7 145.0,1058.4 145.7,1076.4 146.4,1056.9 147.1,1076.9 147.8,1058.1 148.5,1077.9"/>
<text id="pl_a" class="pl" x="0.8" y="55.8" font-size="84">a</text>
<text id="pl_b" class="pl" x="3.2" y="695" font-size="81">b</text>
<text id="pl_c" class="pl" x="4" y="1381.6" font-size="83">c</text>
<line x1="149.0" y1="427.5" x2="1524.5" y2="427.5" stroke="#231815" stroke-width="4.6" stroke-linecap="butt"/>
<line x1="721.2" y1="488.0" x2="1527.0" y2="488.0" stroke="#231815" stroke-width="4.7" stroke-dasharray="9.5 5.35" stroke-linecap="butt"/>
<line x1="983.2" y1="190.1" x2="1304.2" y2="190.1" stroke="#231815" stroke-width="5" stroke-dasharray="24.4 15.6 4.7 14.8" stroke-linecap="butt"/>
<rect x="1311.9" y="180.5" width="4.7" height="5" fill="#231815"/>
<line x1="1317.0" y1="168.8" x2="1515.6" y2="168.8" stroke="#231815" stroke-width="5" stroke-dasharray="24.4 15.6 4.7 14.8" stroke-linecap="butt"/>
<path d="M1570.5 248 V371 H1639" fill="none" stroke="#231815" stroke-width="4.5"/>
<line x1="21.3" y1="1117.0" x2="1578.7" y2="1117.0" stroke="#231815" stroke-width="4.6" stroke-linecap="butt"/>
<line x1="145.0" y1="1188.0" x2="1576.0" y2="1188.0" stroke="#231815" stroke-width="4.7" stroke-dasharray="9.5 5.35" stroke-linecap="butt"/>
<line x1="1014.0" y1="763.0" x2="1570.8" y2="763.0" stroke="#231815" stroke-width="5" stroke-dasharray="24 15.8 4.7 15.1" stroke-linecap="butt"/>
<rect x="1163.8" y="688.1" width="257.3" height="10.4" fill="#dcdddd" stroke="#231815" stroke-width="1.5"/>
<rect x="1422.5" y="654.4" width="161.5" height="10.6" fill="#dcdddd" stroke="#231815" stroke-width="1.5"/>
<path d="M1636.8 947 V1090.6 L1700.3 1088.7" fill="none" stroke="#231815" stroke-width="4.5"/>
<defs><pattern id="hx" patternUnits="userSpaceOnUse" width="13.7" height="13.7" x="573" y="1681"><path d="M-1 -1 L14.7 14.7 M-1 14.7 L14.7 -1" stroke="#151210" stroke-width="1.4" fill="none"/></pattern><pattern id="hx2" patternUnits="userSpaceOnUse" width="13.7" height="13.7" x="986" y="1544.5"><path d="M-1 -1 L14.7 14.7 M-1 14.7 L14.7 -1" stroke="#151210" stroke-width="1.4" fill="none"/></pattern></defs>
<rect x="573.4" y="1680.4" width="133.9" height="181" fill="url(#hx)" stroke="#151210" stroke-width="2.4"/>
<rect x="986.2" y="1544.2" width="134.3" height="317.2" fill="url(#hx2)" stroke="#151210" stroke-width="2.4"/>
<line x1="1053.2" y1="1409.6" x2="1053.2" y2="1543.0" stroke="#5a504c" stroke-width="1.2" stroke-linecap="butt"/>
<line x1="1048.9" y1="1409.6" x2="1057.7" y2="1409.6" stroke="#5a504c" stroke-width="1.2" stroke-linecap="butt"/>
<line x1="537.4" y1="1361.0" x2="537.4" y2="1862.7" stroke="#111" stroke-width="2.3" stroke-linecap="butt"/>
<line x1="536.2" y1="1861.5" x2="1157.8" y2="1861.5" stroke="#111" stroke-width="2.5" stroke-linecap="butt"/>
<line x1="528.3" y1="1861.2" x2="537.4" y2="1861.2" stroke="#111" stroke-width="2.2" stroke-linecap="butt"/>
<text x="524.6" y="1870.5" font-size="26.3" text-anchor="end" style="fill:#111;letter-spacing:0.9px">0</text>
<line x1="532.4" y1="1815.9" x2="537.4" y2="1815.9" stroke="#111" stroke-width="2.0" stroke-linecap="butt"/>
<line x1="528.3" y1="1770.5" x2="537.4" y2="1770.5" stroke="#111" stroke-width="2.2" stroke-linecap="butt"/>
<text x="524.6" y="1779.8" font-size="26.3" text-anchor="end" style="fill:#111;letter-spacing:0.9px">50</text>
<line x1="532.4" y1="1725.2" x2="537.4" y2="1725.2" stroke="#111" stroke-width="2.0" stroke-linecap="butt"/>
<line x1="528.3" y1="1679.9" x2="537.4" y2="1679.9" stroke="#111" stroke-width="2.2" stroke-linecap="butt"/>
<text x="524.6" y="1689.2" font-size="26.3" text-anchor="end" style="fill:#111;letter-spacing:0.9px">100</text>
<line x1="532.4" y1="1634.6" x2="537.4" y2="1634.6" stroke="#111" stroke-width="2.0" stroke-linecap="butt"/>
<line x1="528.3" y1="1589.2" x2="537.4" y2="1589.2" stroke="#111" stroke-width="2.2" stroke-linecap="butt"/>
<text x="524.6" y="1598.5" font-size="26.3" text-anchor="end" style="fill:#111;letter-spacing:0.9px">150</text>
<line x1="532.4" y1="1543.9" x2="537.4" y2="1543.9" stroke="#111" stroke-width="2.0" stroke-linecap="butt"/>
<line x1="528.3" y1="1498.6" x2="537.4" y2="1498.6" stroke="#111" stroke-width="2.2" stroke-linecap="butt"/>
<text x="524.6" y="1507.9" font-size="26.3" text-anchor="end" style="fill:#111;letter-spacing:0.9px">200</text>
<line x1="532.4" y1="1453.3" x2="537.4" y2="1453.3" stroke="#111" stroke-width="2.0" stroke-linecap="butt"/>
<line x1="528.3" y1="1408.0" x2="537.4" y2="1408.0" stroke="#111" stroke-width="2.2" stroke-linecap="butt"/>
<text x="524.6" y="1417.2" font-size="26.3" text-anchor="end" style="fill:#111;letter-spacing:0.9px">250</text>
<line x1="532.4" y1="1362.6" x2="537.4" y2="1362.6" stroke="#111" stroke-width="2.0" stroke-linecap="butt"/>
<line x1="532.4" y1="1362.0" x2="537.4" y2="1362.0" stroke="#111" stroke-width="2.0" stroke-linecap="butt"/>
<line x1="640.3" y1="1861.5" x2="640.3" y2="1871.0" stroke="#111" stroke-width="2.4" stroke-linecap="butt"/>
<line x1="846.5" y1="1861.5" x2="846.5" y2="1871.0" stroke="#111" stroke-width="2.4" stroke-linecap="butt"/>
<line x1="1053.1" y1="1861.5" x2="1053.1" y2="1871.0" stroke="#111" stroke-width="2.4" stroke-linecap="butt"/>
<line x1="537.4" y1="1861.5" x2="537.4" y2="1866.2" stroke="#111" stroke-width="2.2" stroke-linecap="butt"/>
<line x1="743.6" y1="1861.5" x2="743.6" y2="1866.2" stroke="#111" stroke-width="2.2" stroke-linecap="butt"/>
<line x1="950.0" y1="1861.5" x2="950.0" y2="1866.2" stroke="#111" stroke-width="2.2" stroke-linecap="butt"/>
<line x1="1156.7" y1="1861.5" x2="1156.7" y2="1866.2" stroke="#111" stroke-width="2.2" stroke-linecap="butt"/>
<text id="pctl" transform="translate(432.0 1717) rotate(-90)" font-size="51.5" textLength="231" lengthAdjust="spacing">% Control</text>
<line x1="583.7" y1="1383.3" x2="1146.5" y2="1383.3" stroke="#231815" stroke-width="3.9" stroke-linecap="butt"/>
<path d="M1176.70 1412.40 L1178.00 1399.10 L1172.00 1399.10 L1173.30 1412.40Z M1175.53 1414.02 L1188.58 1411.14 L1186.72 1405.44 L1174.47 1410.78Z M1173.62 1413.40 L1180.39 1424.92 L1185.24 1421.40 L1176.38 1411.40Z M1173.62 1411.40 L1164.76 1421.40 L1169.61 1424.92 L1176.38 1413.40Z M1175.53 1410.78 L1163.28 1405.44 L1161.42 1411.14 L1174.47 1414.02Z" fill="#231815"/>
<circle cx="1175.0" cy="1412.4" r="2.6" fill="#231815"/>
<path d="M1120.90 1450.70 L1122.20 1437.40 L1116.20 1437.40 L1117.50 1450.70Z M1119.73 1452.32 L1132.78 1449.44 L1130.92 1443.74 L1118.67 1449.08Z M1117.82 1451.70 L1124.59 1463.22 L1129.44 1459.70 L1120.58 1449.70Z M1117.82 1449.70 L1108.96 1459.70 L1113.81 1463.22 L1120.58 1451.70Z M1119.73 1449.08 L1107.48 1443.74 L1105.62 1449.44 L1118.67 1452.32Z" fill="#231815"/>
<circle cx="1119.2" cy="1450.7" r="2.6" fill="#231815"/>
<path d="M849.70 1774.20 L851.00 1760.90 L845.00 1760.90 L846.30 1774.20Z M848.53 1775.82 L861.58 1772.94 L859.72 1767.24 L847.47 1772.58Z M846.62 1775.20 L853.39 1786.72 L858.24 1783.20 L849.38 1773.20Z M846.62 1773.20 L837.76 1783.20 L842.61 1786.72 L849.38 1775.20Z M848.53 1772.58 L836.28 1767.24 L834.42 1772.94 L847.47 1775.82Z" fill="#231815"/>
<circle cx="848.0" cy="1774.2" r="2.6" fill="#231815"/>
<text id="a_ach" x="151.00" y="488.0" font-size="43.5" textLength="220.80" lengthAdjust="spacing">ACh 10 <tspan class="mu">μ</tspan>M</text>
<text id="a_pin" x="966.80" y="538.4" font-size="43.5" textLength="284.60" lengthAdjust="spacing">Pinacidil 5 <tspan class="mu">μ</tspan>M</text>
<text id="a_glib" x="1057.60" y="175.6" font-size="43.5" textLength="215.20" lengthAdjust="spacing">Glib 30 <tspan class="mu">μ</tspan>M</text>
<text id="a_50" x="1350.20" y="150.1" font-size="43.5" textLength="124.60" lengthAdjust="spacing">50 <tspan class="mu">μ</tspan>M</text>
<text id="a_03g" x="1606.00" y="329.7" font-size="51" textLength="115.00" lengthAdjust="spacing">0.3 g</text>
<text id="a_2min" x="1537.40" y="443.3" font-size="51" textLength="126.60" lengthAdjust="spacing">2 min</text>
<text id="b_bayk" x="26.40" y="1167.4" font-size="43.5" textLength="378.00" lengthAdjust="spacing">BayK 8644&#160;&#160;0.4 <tspan class="mu">μ</tspan>M</text>
<text id="b_ach" x="711.20" y="1236.2" font-size="43.5" textLength="219.80" lengthAdjust="spacing">ACh 10 <tspan class="mu">μ</tspan>M</text>
<text id="b_glib" x="1186.40" y="670.7" font-size="43.5" textLength="216.40" lengthAdjust="spacing">Glib 30 <tspan class="mu">μ</tspan>M</text>
<text id="b_50" x="1442.20" y="641.4" font-size="43.5" textLength="123.60" lengthAdjust="spacing">50 <tspan class="mu">μ</tspan>M</text>
<text id="b_crom" x="1092.80" y="743.8" font-size="43.5" textLength="379.40" lengthAdjust="spacing">Cromakalim 10 <tspan class="mu">μ</tspan>M</text>
<text id="b_2min" x="1604.00" y="1157.8" font-size="51" textLength="127.20" lengthAdjust="spacing">2 min</text>
<text id="c_bayk" x="602.00" y="1361.6" font-size="43" textLength="531.80" lengthAdjust="spacing">BayK pretreated condition</text>
<text id="c_ach" x="719.80" y="1431.5" font-size="43" textLength="266.00" lengthAdjust="spacing">ACh-induced</text>
<text id="c_phasic" x="665.00" y="1478.0" font-size="43" textLength="374.80" lengthAdjust="spacing">phasic contraction</text>
<text id="c_p" x="1211.00" y="1425.5" font-size="43" textLength="143.20" lengthAdjust="spacing">p&lt;0.05</text>
<text id="c_n1" x="1076.00" y="1501.4" font-size="43" textLength="111.80" lengthAdjust="spacing">(n=5)</text>
<text id="c_n2" x="789.00" y="1826.0" font-size="43" textLength="113.00" lengthAdjust="spacing">(n=5)</text>
<text x="1659.6" y="1039.9" font-size="51" textLength="116.0" lengthAdjust="spacing">0.2 g</text>
<text id="r_control" transform="translate(667.5 1912.5) rotate(-45)" text-anchor="end" font-size="52" textLength="176.0" lengthAdjust="spacing">Control</text>
<text id="r_crom" transform="translate(840.5 1914.0) rotate(-45)" text-anchor="end" font-size="52">Crom</text>
<text id="r_10" transform="translate(921.8 1915.2) rotate(-45)" text-anchor="end" font-size="52" textLength="138.6" lengthAdjust="spacing">10 <tspan class="mu">μ</tspan>M</text>
<text id="r_glib" transform="translate(1059.3 1914.0) rotate(-45)" text-anchor="end" font-size="52" textLength="96.0" lengthAdjust="spacing">Glib</text>
<text id="r_30" transform="translate(1141.6 1916.5) rotate(-45)" text-anchor="end" font-size="52" textLength="140.6" lengthAdjust="spacing">30 <tspan class="mu">μ</tspan>M</text>
</svg>
</body></html>
